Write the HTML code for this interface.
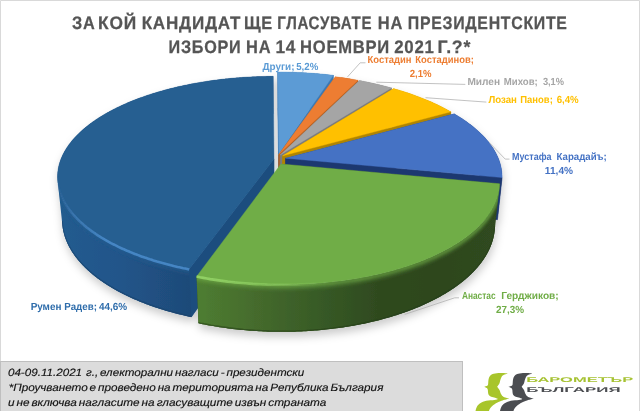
<!DOCTYPE html>
<html><head><meta charset="utf-8"><style>
html,body{margin:0;padding:0;background:#fff;}
svg{display:block;} text{white-space:pre;text-rendering:geometricPrecision;}
</style></head><body>
<svg width="640" height="411" viewBox="0 0 640 411" font-family="Liberation Sans, DejaVu Sans, sans-serif">
<defs>
<filter id="sh" x="-10%" y="-10%" width="120%" height="130%"><feGaussianBlur in="SourceAlpha" stdDeviation="4.2"/><feOffset dx="0.5" dy="4.5" result="b"/><feFlood flood-color="#000" flood-opacity="0.2"/><feComposite in2="b" operator="in"/><feMerge><feMergeNode/><feMergeNode in="SourceGraphic"/></feMerge></filter>
<filter id="soft" x="-5%" y="-50%" width="110%" height="200%"><feGaussianBlur stdDeviation="0.7"/></filter>
<filter id="soft2" x="-5%" y="-20%" width="110%" height="140%"><feGaussianBlur stdDeviation="0.9"/></filter>
<linearGradient id="gside5" gradientUnits="userSpaceOnUse" x1="195" y1="0" x2="500" y2="0">
<stop offset="0" stop-color="#4f7e31"/><stop offset="0.23" stop-color="#43682c"/><stop offset="0.41" stop-color="#375a26"/>
<stop offset="0.6" stop-color="#2f4a1f"/><stop offset="0.8" stop-color="#2d461e"/><stop offset="1" stop-color="#304b20"/></linearGradient>
<linearGradient id="gside6" gradientUnits="userSpaceOnUse" x1="57" y1="0" x2="192" y2="0">
<stop offset="0" stop-color="#245c8f"/><stop offset="0.45" stop-color="#22558a"/><stop offset="1" stop-color="#1e4a78"/></linearGradient>
<linearGradient id="ghl5" gradientUnits="userSpaceOnUse" x1="197" y1="0" x2="330" y2="0">
<stop offset="0" stop-color="#94d467" stop-opacity="0.95"/><stop offset="0.45" stop-color="#8fd062" stop-opacity="0.7"/><stop offset="1" stop-color="#8fd062" stop-opacity="0"/></linearGradient>
<linearGradient id="ghl6" gradientUnits="userSpaceOnUse" x1="57" y1="0" x2="195" y2="0">
<stop offset="0" stop-color="#4a8ccc" stop-opacity="0"/><stop offset="0.12" stop-color="#4a8ccc" stop-opacity="0.45"/><stop offset="0.35" stop-color="#4a8ccc" stop-opacity="0.85"/><stop offset="1" stop-color="#4a8ccc" stop-opacity="0.85"/></linearGradient>
<clipPath id="cs6"><path d="M189.20,269.27 L187.12,268.86 L185.04,268.43 L182.98,267.99 L180.93,267.55 L178.89,267.09 L176.86,266.62 L174.84,266.15 L172.84,265.66 L170.85,265.17 L168.87,264.67 L166.91,264.15 L164.95,263.63 L163.01,263.10 L161.09,262.56 L159.18,262.01 L157.28,261.46 L155.40,260.89 L153.53,260.32 L151.67,259.73 L149.83,259.14 L148.01,258.54 L146.20,257.94 L144.40,257.32 L142.63,256.70 L140.86,256.07 L139.12,255.43 L137.38,254.78 L135.67,254.13 L133.97,253.46 L132.29,252.80 L130.62,252.12 L128.97,251.44 L127.34,250.75 L125.72,250.05 L124.13,249.34 L122.55,248.63 L120.98,247.92 L119.44,247.19 L117.91,246.46 L116.40,245.72 L114.90,244.98 L113.43,244.23 L111.97,243.48 L110.53,242.72 L109.11,241.95 L107.71,241.18 L106.33,240.40 L104.97,239.62 L103.62,238.83 L102.29,238.03 L100.98,237.23 L99.69,236.43 L98.42,235.62 L97.17,234.81 L95.94,233.99 L94.73,233.17 L93.53,232.34 L92.36,231.51 L91.20,230.67 L90.07,229.83 L88.95,228.99 L87.86,228.14 L86.78,227.29 L85.72,226.43 L84.68,225.57 L83.66,224.71 L82.66,223.84 L81.68,222.97 L80.73,222.10 L79.79,221.23 L78.87,220.35 L77.96,219.47 L77.08,218.58 L76.22,217.70 L75.38,216.81 L74.56,215.92 L73.76,215.02 L72.98,214.13 L72.21,213.23 L71.47,212.33 L70.75,211.43 L70.05,210.52 L69.36,209.62 L68.70,208.71 L68.05,207.80 L67.43,206.89 L66.83,205.98 L66.24,205.06 L65.67,204.15 L65.13,203.24 L64.60,202.32 L64.09,201.40 L63.61,200.49 L63.14,199.57 L62.69,198.65 L62.26,197.73 L61.85,196.81 L61.45,195.89 L61.08,194.97 L60.73,194.05 L60.39,193.13 L60.08,192.21 L59.78,191.29 L59.50,190.37 L59.24,189.45 L59.00,188.53 L58.78,187.61 L58.57,186.69 L58.39,185.78 L58.22,184.86 L58.07,183.94 L57.94,183.03 L57.83,182.11 L62.42,225.61 L62.54,226.57 L62.67,227.54 L62.83,228.50 L63.00,229.47 L63.18,230.43 L63.39,231.40 L63.62,232.37 L63.86,233.33 L64.12,234.30 L64.40,235.27 L64.70,236.24 L65.01,237.21 L65.35,238.18 L65.70,239.14 L66.07,240.11 L66.46,241.08 L66.87,242.05 L67.30,243.02 L67.75,243.98 L68.21,244.95 L68.70,245.91 L69.20,246.88 L69.72,247.84 L70.26,248.80 L70.82,249.76 L71.40,250.72 L72.00,251.68 L72.62,252.64 L73.26,253.59 L73.91,254.55 L74.59,255.50 L75.28,256.45 L75.99,257.40 L76.73,258.34 L77.48,259.29 L78.25,260.23 L79.04,261.17 L79.85,262.11 L80.68,263.04 L81.53,263.97 L82.39,264.90 L83.28,265.83 L84.19,266.75 L85.11,267.67 L86.05,268.58 L87.02,269.50 L88.00,270.41 L89.00,271.31 L90.02,272.21 L91.06,273.11 L92.12,274.01 L93.20,274.90 L94.29,275.78 L95.41,276.66 L96.54,277.54 L97.70,278.41 L98.87,279.28 L100.06,280.15 L101.27,281.00 L102.50,281.86 L103.74,282.71 L105.01,283.55 L106.29,284.39 L107.59,285.22 L108.91,286.05 L110.25,286.87 L111.60,287.69 L112.98,288.50 L114.37,289.30 L115.78,290.10 L117.20,290.89 L118.65,291.68 L120.11,292.45 L121.59,293.23 L123.09,293.99 L124.60,294.75 L126.13,295.50 L127.68,296.25 L129.24,296.99 L130.82,297.72 L132.42,298.44 L134.03,299.16 L135.66,299.87 L137.31,300.57 L138.97,301.26 L140.65,301.95 L142.34,302.62 L144.05,303.29 L145.78,303.95 L147.52,304.61 L149.27,305.25 L151.04,305.89 L152.82,306.52 L154.62,307.13 L156.43,307.74 L158.26,308.35 L160.10,308.94 L161.96,309.52 L163.82,310.10 L165.70,310.66 L167.60,311.22 L169.51,311.76 L171.43,312.30 L173.36,312.83 L175.30,313.34 L177.26,313.85 L179.23,314.35 L181.21,314.84 L183.20,315.31 L185.20,315.78 L187.22,316.24 L189.24,316.69 L191.28,317.12 Z"/></clipPath>
<clipPath id="ct6"><path d="M274.00,158.97 L189.20,269.27 L187.14,268.86 L185.09,268.44 L183.05,268.01 L181.02,267.57 L179.01,267.12 L177.00,266.66 L175.01,266.19 L173.03,265.71 L171.06,265.22 L169.10,264.72 L167.16,264.22 L165.22,263.70 L163.31,263.18 L161.40,262.65 L159.51,262.11 L157.63,261.56 L155.77,261.00 L153.92,260.44 L152.08,259.86 L150.26,259.28 L148.45,258.69 L146.66,258.09 L144.88,257.49 L143.12,256.87 L141.37,256.25 L139.64,255.62 L137.93,254.98 L136.22,254.34 L134.54,253.69 L132.87,253.03 L131.22,252.36 L129.58,251.69 L127.96,251.01 L126.36,250.32 L124.77,249.63 L123.20,248.93 L121.65,248.22 L120.12,247.51 L118.60,246.79 L117.10,246.07 L115.61,245.34 L114.15,244.60 L112.70,243.85 L111.27,243.11 L109.85,242.35 L108.46,241.59 L107.08,240.82 L105.72,240.05 L104.38,239.28 L103.06,238.49 L101.76,237.71 L100.47,236.92 L99.20,236.12 L97.96,235.32 L96.73,234.51 L95.51,233.70 L94.32,232.89 L93.15,232.07 L91.99,231.24 L90.86,230.42 L89.74,229.59 L88.64,228.75 L87.56,227.91 L86.50,227.07 L85.46,226.22 L84.44,225.37 L83.44,224.52 L82.46,223.66 L81.49,222.80 L80.55,221.94 L79.62,221.07 L78.72,220.20 L77.83,219.33 L76.96,218.46 L76.11,217.58 L75.28,216.70 L74.47,215.82 L73.68,214.94 L72.91,214.05 L72.16,213.16 L71.43,212.27 L70.72,211.38 L70.02,210.49 L69.35,209.59 L68.69,208.70 L68.05,207.80 L67.44,206.90 L66.84,206.00 L66.26,205.10 L65.70,204.19 L65.16,203.29 L64.64,202.38 L64.13,201.48 L63.65,200.57 L63.18,199.66 L62.74,198.75 L62.31,197.85 L61.90,196.94 L61.51,196.03 L61.14,195.12 L60.79,194.21 L60.45,193.30 L60.14,192.39 L59.84,191.48 L59.56,190.57 L59.30,189.66 L59.06,188.75 L58.83,187.84 L58.63,186.94 L58.44,186.03 L58.27,185.12 L58.12,184.22 L57.98,183.31 L57.87,182.41 L57.77,181.51 L57.69,180.60 L57.62,179.70 L57.58,178.80 L57.55,177.91 L57.54,177.01 L57.54,176.11 L57.56,175.22 L57.60,174.33 L57.66,173.43 L57.73,172.55 L57.83,171.66 L57.93,170.77 L58.06,169.89 L58.20,169.01 L58.35,168.13 L58.53,167.25 L58.72,166.37 L58.92,165.50 L59.14,164.63 L59.38,163.76 L59.64,162.89 L59.91,162.03 L60.19,161.16 L60.49,160.30 L60.81,159.45 L61.14,158.59 L61.49,157.74 L61.85,156.89 L62.23,156.05 L62.62,155.20 L63.03,154.36 L63.45,153.53 L63.89,152.69 L64.34,151.86 L64.80,151.03 L65.28,150.21 L65.78,149.39 L66.29,148.57 L66.81,147.75 L67.35,146.94 L67.90,146.13 L68.47,145.32 L69.04,144.52 L69.64,143.72 L70.24,142.93 L70.86,142.14 L71.50,141.35 L72.14,140.57 L72.80,139.79 L73.47,139.01 L74.16,138.24 L74.85,137.47 L75.56,136.70 L76.29,135.94 L77.02,135.18 L77.77,134.43 L78.53,133.68 L79.30,132.93 L80.09,132.19 L80.88,131.45 L81.69,130.72 L82.51,129.99 L83.34,129.27 L84.19,128.54 L85.04,127.83 L85.91,127.11 L86.78,126.41 L87.67,125.70 L88.57,125.00 L89.48,124.31 L90.40,123.62 L91.33,122.93 L92.28,122.25 L93.23,121.57 L94.19,120.90 L95.17,120.23 L96.15,119.56 L97.14,118.90 L98.15,118.25 L99.16,117.60 L100.19,116.95 L101.22,116.31 L102.26,115.67 L103.32,115.04 L104.38,114.41 L105.45,113.79 L106.53,113.17 L107.62,112.56 L108.72,111.95 L109.83,111.35 L110.95,110.75 L112.07,110.15 L113.21,109.56 L114.35,108.98 L115.50,108.40 L116.66,107.83 L117.83,107.26 L119.01,106.69 L120.19,106.13 L121.38,105.58 L122.58,105.03 L123.79,104.48 L125.01,103.94 L126.23,103.41 L127.46,102.87 L128.70,102.35 L129.95,101.83 L131.20,101.31 L132.46,100.80 L133.73,100.30 L135.01,99.80 L136.29,99.30 L137.58,98.81 L138.87,98.33 L140.18,97.85 L141.49,97.38 L142.80,96.91 L144.12,96.44 L145.45,95.98 L146.79,95.53 L148.13,95.08 L149.47,94.64 L150.83,94.20 L152.18,93.76 L153.55,93.34 L154.92,92.91 L156.29,92.50 L157.68,92.08 L159.06,91.68 L160.46,91.27 L161.85,90.88 L163.26,90.49 L164.66,90.10 L166.08,89.72 L167.50,89.34 L168.92,88.97 L170.35,88.61 L171.78,88.25 L173.22,87.89 L174.66,87.54 L176.11,87.20 L177.56,86.86 L179.02,86.53 L180.48,86.20 L181.94,85.88 L183.41,85.56 L184.88,85.25 L186.36,84.94 L187.84,84.64 L189.32,84.34 L190.81,84.05 L192.30,83.76 L193.80,83.48 L195.30,83.21 L196.80,82.94 L198.31,82.67 L199.82,82.42 L201.33,82.16 L202.84,81.91 L204.36,81.67 L205.89,81.43 L207.41,81.20 L208.94,80.97 L210.47,80.75 L212.00,80.54 L213.54,80.33 L215.08,80.12 L216.62,79.92 L218.16,79.73 L219.71,79.54 L221.26,79.35 L222.81,79.17 L224.36,79.00 L225.92,78.83 L227.48,78.67 L229.03,78.51 L230.60,78.36 L232.16,78.22 L233.72,78.08 L235.29,77.94 L236.86,77.81 L238.43,77.69 L240.00,77.57 L241.57,77.45 L243.15,77.34 L244.72,77.24 L246.30,77.14 L247.88,77.05 L249.46,76.97 L251.04,76.88 L252.62,76.81 L254.20,76.74 L255.78,76.67 L257.37,76.61 L258.95,76.56 L260.54,76.51 L262.12,76.47 L263.71,76.43 L265.29,76.40 L266.88,76.37 L268.47,76.35 L270.06,76.33 L271.64,76.32 L273.23,76.31 Z"/></clipPath>
<clipPath id="cs5"><path d="M499.31,188.31 L499.20,189.23 L499.06,190.15 L498.91,191.08 L498.75,192.00 L498.56,192.93 L498.35,193.86 L498.13,194.79 L497.89,195.71 L497.63,196.64 L497.35,197.57 L497.05,198.50 L496.73,199.43 L496.40,200.36 L496.04,201.29 L495.67,202.22 L495.28,203.15 L494.87,204.07 L494.44,205.00 L493.99,205.93 L493.52,206.86 L493.03,207.78 L492.53,208.71 L492.00,209.63 L491.46,210.56 L490.89,211.48 L490.31,212.40 L489.70,213.32 L489.08,214.24 L488.44,215.16 L487.78,216.07 L487.09,216.99 L486.39,217.90 L485.67,218.81 L484.93,219.72 L484.17,220.62 L483.39,221.53 L482.60,222.43 L481.78,223.33 L480.94,224.23 L480.08,225.12 L479.20,226.01 L478.31,226.90 L477.39,227.79 L476.45,228.67 L475.50,229.55 L474.52,230.43 L473.53,231.31 L472.51,232.18 L471.48,233.04 L470.42,233.91 L469.35,234.77 L468.26,235.62 L467.15,236.47 L466.02,237.32 L464.87,238.17 L463.70,239.01 L462.51,239.84 L461.30,240.67 L460.07,241.50 L458.83,242.32 L457.56,243.14 L456.28,243.95 L454.98,244.76 L453.66,245.56 L452.32,246.35 L450.96,247.15 L449.58,247.93 L448.18,248.71 L446.77,249.49 L445.34,250.26 L443.89,251.02 L442.42,251.77 L440.93,252.53 L439.43,253.27 L437.91,254.01 L436.37,254.74 L434.81,255.47 L433.24,256.18 L431.64,256.90 L430.04,257.60 L428.41,258.30 L426.77,258.99 L425.11,259.68 L423.43,260.35 L421.74,261.02 L420.03,261.68 L418.31,262.34 L416.57,262.99 L414.81,263.62 L413.04,264.26 L411.25,264.88 L409.45,265.49 L407.63,266.10 L405.80,266.70 L403.95,267.29 L402.09,267.87 L400.21,268.45 L398.32,269.01 L396.42,269.57 L394.50,270.11 L392.56,270.65 L390.62,271.18 L388.66,271.70 L386.69,272.21 L384.70,272.72 L382.71,273.21 L380.70,273.69 L378.67,274.17 L376.64,274.63 L374.59,275.09 L372.54,275.53 L370.47,275.97 L368.39,276.39 L366.30,276.81 L364.20,277.21 L362.09,277.61 L359.97,277.99 L357.84,278.37 L355.70,278.73 L353.55,279.09 L351.39,279.43 L349.22,279.76 L347.04,280.09 L344.86,280.40 L342.67,280.70 L340.47,280.99 L338.26,281.27 L336.05,281.54 L333.83,281.80 L331.60,282.05 L329.36,282.29 L327.12,282.51 L324.88,282.73 L322.62,282.93 L320.37,283.13 L318.11,283.31 L315.84,283.48 L313.57,283.64 L311.29,283.79 L309.01,283.93 L306.73,284.05 L304.44,284.17 L302.16,284.27 L299.86,284.36 L297.57,284.45 L295.27,284.52 L292.98,284.57 L290.68,284.62 L288.38,284.66 L286.08,284.68 L283.77,284.69 L281.47,284.70 L279.17,284.69 L276.87,284.66 L274.57,284.63 L272.27,284.59 L269.97,284.53 L267.67,284.47 L265.37,284.39 L263.08,284.30 L260.79,284.20 L258.50,284.09 L256.21,283.97 L253.93,283.83 L251.65,283.69 L249.37,283.53 L247.10,283.36 L244.83,283.18 L242.57,282.99 L240.31,282.79 L238.06,282.58 L235.81,282.36 L233.57,282.12 L231.33,281.88 L229.11,281.62 L226.88,281.35 L224.67,281.08 L222.46,280.79 L220.26,280.49 L218.06,280.18 L215.88,279.86 L213.70,279.53 L211.53,279.19 L209.37,278.84 L207.22,278.48 L205.08,278.10 L202.95,277.72 L200.82,277.33 L198.71,276.93 L196.61,276.51 L198.47,323.33 L200.53,323.76 L202.59,324.18 L204.66,324.59 L206.75,324.99 L208.84,325.38 L210.94,325.75 L213.05,326.12 L215.16,326.48 L217.29,326.82 L219.42,327.16 L221.57,327.48 L223.71,327.79 L225.87,328.09 L228.03,328.38 L230.20,328.66 L232.38,328.93 L234.56,329.19 L236.75,329.43 L238.94,329.66 L241.14,329.88 L243.34,330.09 L245.55,330.29 L247.77,330.48 L249.98,330.65 L252.20,330.82 L254.43,330.97 L256.66,331.11 L258.89,331.24 L261.12,331.35 L263.36,331.46 L265.60,331.55 L267.84,331.63 L270.08,331.70 L272.32,331.76 L274.57,331.81 L276.82,331.84 L279.06,331.86 L281.31,331.87 L283.56,331.87 L285.80,331.86 L288.05,331.83 L290.29,331.79 L292.54,331.75 L294.78,331.68 L297.02,331.61 L299.26,331.53 L301.49,331.43 L303.73,331.32 L305.96,331.20 L308.19,331.07 L310.41,330.93 L312.63,330.77 L314.85,330.60 L317.06,330.43 L319.27,330.24 L321.47,330.03 L323.67,329.82 L325.86,329.60 L328.05,329.36 L330.23,329.11 L332.40,328.85 L334.57,328.58 L336.73,328.30 L338.89,328.01 L341.04,327.70 L343.18,327.39 L345.31,327.06 L347.43,326.72 L349.55,326.37 L351.66,326.01 L353.76,325.64 L355.85,325.26 L357.93,324.87 L360.00,324.47 L362.06,324.06 L364.11,323.63 L366.15,323.20 L368.19,322.75 L370.21,322.30 L372.22,321.83 L374.21,321.36 L376.20,320.87 L378.18,320.38 L380.14,319.87 L382.09,319.36 L384.03,318.83 L385.96,318.30 L387.87,317.76 L389.78,317.20 L391.67,316.64 L393.54,316.07 L395.40,315.49 L397.25,314.90 L399.09,314.30 L400.91,313.69 L402.71,313.07 L404.51,312.44 L406.29,311.81 L408.05,311.17 L409.80,310.51 L411.53,309.85 L413.25,309.19 L414.95,308.51 L416.64,307.83 L418.31,307.13 L419.97,306.43 L421.61,305.73 L423.23,305.01 L424.84,304.29 L426.43,303.56 L428.01,302.82 L429.57,302.07 L431.11,301.32 L432.63,300.56 L434.14,299.80 L435.63,299.02 L437.11,298.24 L438.56,297.46 L440.00,296.67 L441.42,295.87 L442.83,295.06 L444.21,294.25 L445.58,293.44 L446.93,292.61 L448.26,291.78 L449.58,290.95 L450.87,290.11 L452.15,289.27 L453.41,288.42 L454.65,287.56 L455.88,286.70 L457.08,285.83 L458.27,284.96 L459.43,284.09 L460.58,283.21 L461.71,282.33 L462.83,281.44 L463.92,280.54 L464.99,279.65 L466.05,278.75 L467.08,277.84 L468.10,276.93 L469.10,276.02 L470.08,275.10 L471.04,274.18 L471.98,273.26 L472.90,272.34 L473.80,271.41 L474.68,270.47 L475.55,269.54 L476.39,268.60 L477.22,267.66 L478.03,266.71 L478.82,265.77 L479.58,264.82 L480.33,263.87 L481.06,262.92 L481.78,261.96 L482.47,261.00 L483.14,260.04 L483.80,259.08 L484.43,258.12 L485.05,257.16 L485.65,256.19 L486.22,255.22 L486.78,254.26 L487.32,253.29 L487.85,252.32 L488.35,251.34 L488.83,250.37 L489.30,249.40 L489.75,248.43 L490.17,247.45 L490.58,246.48 L490.97,245.50 L491.35,244.52 L491.70,243.55 L492.04,242.57 L492.35,241.60 L492.65,240.62 L492.93,239.64 L493.19,238.67 L493.44,237.69 L493.66,236.72 L493.87,235.74 L494.06,234.77 L494.24,233.80 L494.39,232.82 L494.53,231.85 L494.65,230.88 Z"/></clipPath>
<clipPath id="ct5"><path d="M280.93,163.98 L499.61,183.81 L499.59,184.73 L499.54,185.65 L499.48,186.57 L499.40,187.49 L499.30,188.41 L499.18,189.33 L499.05,190.26 L498.90,191.18 L498.73,192.11 L498.54,193.03 L498.33,193.96 L498.11,194.89 L497.86,195.81 L497.60,196.74 L497.32,197.67 L497.02,198.60 L496.70,199.53 L496.36,200.46 L496.01,201.39 L495.63,202.31 L495.24,203.24 L494.83,204.17 L494.39,205.10 L493.94,206.02 L493.47,206.95 L492.98,207.88 L492.48,208.80 L491.95,209.72 L491.40,210.65 L490.83,211.57 L490.25,212.49 L489.64,213.41 L489.02,214.33 L488.38,215.24 L487.71,216.16 L487.03,217.07 L486.33,217.98 L485.61,218.89 L484.86,219.80 L484.10,220.71 L483.32,221.61 L482.52,222.51 L481.70,223.41 L480.86,224.31 L480.00,225.20 L479.12,226.09 L478.23,226.98 L477.31,227.87 L476.37,228.75 L475.41,229.63 L474.44,230.51 L473.44,231.38 L472.43,232.25 L471.39,233.12 L470.34,233.98 L469.26,234.84 L468.17,235.69 L467.06,236.54 L465.92,237.39 L464.77,238.23 L463.60,239.07 L462.41,239.91 L461.21,240.74 L459.98,241.56 L458.73,242.38 L457.47,243.20 L456.18,244.01 L454.88,244.82 L453.56,245.62 L452.21,246.41 L450.86,247.20 L449.48,247.99 L448.08,248.77 L446.67,249.54 L445.24,250.31 L443.78,251.07 L442.32,251.83 L440.83,252.58 L439.32,253.32 L437.80,254.06 L436.26,254.79 L434.71,255.51 L433.13,256.23 L431.54,256.94 L429.93,257.65 L428.30,258.35 L426.66,259.04 L425.00,259.72 L423.33,260.39 L421.64,261.06 L419.93,261.72 L418.20,262.38 L416.46,263.02 L414.71,263.66 L412.93,264.29 L411.15,264.92 L409.34,265.53 L407.53,266.14 L405.69,266.73 L403.85,267.32 L401.98,267.90 L400.11,268.48 L398.22,269.04 L396.31,269.60 L394.39,270.14 L392.46,270.68 L390.52,271.21 L388.56,271.73 L386.59,272.24 L384.60,272.74 L382.61,273.23 L380.60,273.72 L378.58,274.19 L376.54,274.65 L374.50,275.11 L372.44,275.55 L370.37,275.99 L368.29,276.41 L366.20,276.82 L364.11,277.23 L361.99,277.62 L359.87,278.01 L357.74,278.38 L355.61,278.75 L353.46,279.10 L351.30,279.44 L349.13,279.78 L346.96,280.10 L344.77,280.41 L342.58,280.71 L340.38,281.00 L338.18,281.28 L335.97,281.55 L333.74,281.81 L331.52,282.06 L329.28,282.30 L327.05,282.52 L324.80,282.74 L322.55,282.94 L320.29,283.13 L318.03,283.32 L315.77,283.49 L313.50,283.65 L311.22,283.79 L308.95,283.93 L306.66,284.06 L304.38,284.17 L302.09,284.27 L299.80,284.37 L297.51,284.45 L295.21,284.52 L292.92,284.57 L290.62,284.62 L288.32,284.66 L286.02,284.68 L283.72,284.69 L281.42,284.70 L279.12,284.69 L276.82,284.66 L274.52,284.63 L272.22,284.59 L269.92,284.53 L267.62,284.47 L265.33,284.39 L263.04,284.30 L260.75,284.20 L258.46,284.09 L256.17,283.96 L253.89,283.83 L251.61,283.68 L249.34,283.53 L247.07,283.36 L244.80,283.18 L242.54,282.99 L240.28,282.79 L238.03,282.58 L235.79,282.35 L233.55,282.12 L231.31,281.87 L229.09,281.62 L226.86,281.35 L224.65,281.07 L222.44,280.79 L220.24,280.49 L218.05,280.18 L215.87,279.86 L213.69,279.53 L211.52,279.19 L209.36,278.84 L207.21,278.47 L205.07,278.10 L202.94,277.72 L200.82,277.33 L198.71,276.93 L196.61,276.51 Z"/></clipPath>
</defs>
<rect x="0" y="0" width="640" height="411" fill="#fff"/>
<path d="M0.5,411 V0.5 H639.5 V411" fill="none" stroke="#d9d9d9" stroke-width="1"/>
<g stroke="#555" stroke-width="0.25" letter-spacing="0.8"><text x="72.03" y="28.80" textLength="23.42" lengthAdjust="spacingAndGlyphs" font-size="18" fill="#555" font-weight="bold" font-style="normal">ЗА</text><text x="98.04" y="28.80" textLength="38.89" lengthAdjust="spacingAndGlyphs" font-size="18" fill="#555" font-weight="bold" font-style="normal">КОЙ</text><text x="141.67" y="28.80" textLength="99.56" lengthAdjust="spacingAndGlyphs" font-size="18" fill="#555" font-weight="bold" font-style="normal">КАНДИДАТ</text><text x="243.90" y="28.80" textLength="29.06" lengthAdjust="spacingAndGlyphs" font-size="18" fill="#555" font-weight="bold" font-style="normal">ЩЕ</text><text x="277.32" y="28.80" textLength="94.81" lengthAdjust="spacingAndGlyphs" font-size="18" fill="#555" font-weight="bold" font-style="normal">ГЛАСУВАТЕ</text><text x="377.80" y="28.80" textLength="25.27" lengthAdjust="spacingAndGlyphs" font-size="18" fill="#555" font-weight="bold" font-style="normal">НА</text><text x="407.84" y="28.80" textLength="159.79" lengthAdjust="spacingAndGlyphs" font-size="18" fill="#555" font-weight="bold" font-style="normal">ПРЕЗИДЕНТСКИТЕ</text></g><g stroke="#555" stroke-width="0.25" letter-spacing="0.8"><text x="168.62" y="53.30" textLength="72.78" lengthAdjust="spacingAndGlyphs" font-size="18" fill="#555" font-weight="bold" font-style="normal">ИЗБОРИ</text><text x="246.10" y="53.30" textLength="25.16" lengthAdjust="spacingAndGlyphs" font-size="18" fill="#555" font-weight="bold" font-style="normal">НА</text><text x="275.41" y="53.30" textLength="20.75" lengthAdjust="spacingAndGlyphs" font-size="18" fill="#555" font-weight="bold" font-style="normal">14</text><text x="300.09" y="53.30" textLength="89.96" lengthAdjust="spacingAndGlyphs" font-size="18" fill="#555" font-weight="bold" font-style="normal">НОЕМВРИ</text><text x="394.22" y="53.30" textLength="40.40" lengthAdjust="spacingAndGlyphs" font-size="18" fill="#555" font-weight="bold" font-style="normal">2021</text><text x="437.48" y="53.30" textLength="33.78" lengthAdjust="spacingAndGlyphs" font-size="18" fill="#555" font-weight="bold" font-style="normal">Г.?*</text></g>
<g id="pie" filter="url(#sh)">
<path d="M279.03,152.93 L277.83,72.00 L279.48,72.00 L281.12,72.01 L282.77,72.02 L284.42,72.04 L286.06,72.06 L287.71,72.09 L289.35,72.13 L291.00,72.17 L292.64,72.21 L294.28,72.26 L295.93,72.32 L297.57,72.39 L299.21,72.46 L300.85,72.53 L302.49,72.61 L304.13,72.70 L305.76,72.79 L307.40,72.89 L309.03,73.00 L310.67,73.11 L312.30,73.22 L313.93,73.34 L315.55,73.47 L317.18,73.60 L318.81,73.74 L320.43,73.89 L322.05,74.04 L323.67,74.20 L325.28,74.36 L326.90,74.53 L328.51,74.70 L330.12,74.88 L331.73,75.07 L333.33,75.26 L332.39,111.53 L330.81,111.32 L329.23,111.13 L327.65,110.94 L326.06,110.75 L324.47,110.57 L322.88,110.40 L321.29,110.24 L319.70,110.08 L318.10,109.92 L316.51,109.77 L314.91,109.63 L313.31,109.50 L311.70,109.37 L310.10,109.25 L308.49,109.13 L306.89,109.02 L305.28,108.91 L303.67,108.82 L302.06,108.72 L300.45,108.64 L298.84,108.56 L297.22,108.48 L295.61,108.42 L293.99,108.35 L292.38,108.30 L290.76,108.25 L289.14,108.21 L287.53,108.17 L285.91,108.14 L284.29,108.12 L282.67,108.10 L281.05,108.08 L279.43,108.08 L277.81,108.08 L278.99,193.63 Z" fill="#3e78b0"/>
<path d="M279.03,152.93 L277.83,72.00 L277.81,108.08 L278.99,193.63 Z" fill="#3e78b0" stroke="#3e78b0" stroke-width="0.6"/>
<path d="M279.03,152.93 L333.33,75.26 L332.39,111.53 L278.99,193.63 Z" fill="#3e78b0" stroke="#3e78b0" stroke-width="0.6"/>
<path d="M279.03,152.93 L277.83,72.00 L279.48,72.00 L281.12,72.01 L282.77,72.02 L284.42,72.04 L286.06,72.06 L287.71,72.09 L289.35,72.13 L291.00,72.17 L292.64,72.21 L294.28,72.26 L295.93,72.32 L297.57,72.39 L299.21,72.46 L300.85,72.53 L302.49,72.61 L304.13,72.70 L305.76,72.79 L307.40,72.89 L309.03,73.00 L310.67,73.11 L312.30,73.22 L313.93,73.34 L315.55,73.47 L317.18,73.60 L318.81,73.74 L320.43,73.89 L322.05,74.04 L323.67,74.20 L325.28,74.36 L326.90,74.53 L328.51,74.70 L330.12,74.88 L331.73,75.07 L333.33,75.26 Z" fill="#5b9bd5" stroke="#5b9bd5" stroke-width="0.4"/>
<path d="M278.69,154.59 L335.34,76.73 L336.99,76.94 L338.63,77.16 L340.26,77.39 L341.90,77.62 L343.53,77.85 L345.16,78.10 L346.78,78.34 L348.40,78.60 L350.02,78.86 L351.63,79.13 L353.24,79.40 L354.85,79.68 L356.45,79.96 L358.05,80.26 L356.64,116.84 L355.07,116.53 L353.49,116.23 L351.91,115.93 L350.33,115.64 L348.75,115.36 L347.16,115.08 L345.56,114.81 L343.97,114.55 L342.37,114.29 L340.77,114.04 L339.16,113.79 L337.55,113.56 L335.94,113.33 L334.32,113.10 L278.61,195.39 Z" fill="#b45f22"/>
<path d="M278.69,154.59 L358.05,80.26 L356.64,116.84 L278.61,195.39 Z" fill="#b45f22" stroke="#b45f22" stroke-width="0.6"/>
<path d="M278.69,154.59 L335.34,76.73 L336.99,76.94 L338.63,77.16 L340.26,77.39 L341.90,77.62 L343.53,77.85 L345.16,78.10 L346.78,78.34 L348.40,78.60 L350.02,78.86 L351.63,79.13 L353.24,79.40 L354.85,79.68 L356.45,79.96 L358.05,80.26 Z" fill="#ed7d31" stroke="#ed7d31" stroke-width="0.4"/>
<path d="M280.21,154.94 L359.41,80.52 L360.98,80.81 L362.55,81.11 L364.11,81.41 L365.67,81.72 L367.23,82.04 L368.78,82.36 L370.32,82.69 L371.86,83.03 L373.40,83.37 L374.93,83.71 L376.46,84.06 L377.98,84.42 L379.49,84.78 L381.01,85.15 L382.51,85.53 L384.01,85.91 L385.51,86.29 L387.00,86.69 L388.49,87.08 L389.96,87.49 L391.44,87.90 L389.43,124.93 L387.98,124.50 L386.53,124.07 L385.07,123.65 L383.61,123.23 L382.14,122.82 L380.67,122.42 L379.19,122.02 L377.70,121.63 L376.21,121.25 L374.72,120.87 L373.22,120.50 L371.71,120.13 L370.21,119.77 L368.69,119.42 L367.17,119.07 L365.65,118.73 L364.12,118.39 L362.59,118.06 L361.06,117.74 L359.52,117.42 L357.98,117.11 L280.10,195.76 Z" fill="#7b7b7b"/>
<path d="M280.21,154.94 L391.44,87.90 L389.43,124.93 L280.10,195.76 Z" fill="#7b7b7b" stroke="#7b7b7b" stroke-width="0.6"/>
<path d="M280.21,154.94 L359.41,80.52 L360.98,80.81 L362.55,81.11 L364.11,81.41 L365.67,81.72 L367.23,82.04 L368.78,82.36 L370.32,82.69 L371.86,83.03 L373.40,83.37 L374.93,83.71 L376.46,84.06 L377.98,84.42 L379.49,84.78 L381.01,85.15 L382.51,85.53 L384.01,85.91 L385.51,86.29 L387.00,86.69 L388.49,87.08 L389.96,87.49 L391.44,87.90 Z" fill="#a5a5a5" stroke="#a5a5a5" stroke-width="0.4"/>
<path d="M282.61,155.85 L393.70,88.60 L395.12,89.00 L396.53,89.40 L397.94,89.82 L399.34,90.23 L400.73,90.66 L402.12,91.08 L403.51,91.52 L404.89,91.95 L406.26,92.40 L407.62,92.85 L408.98,93.30 L410.34,93.76 L411.68,94.23 L413.02,94.70 L414.36,95.17 L415.68,95.65 L417.00,96.14 L418.32,96.63 L419.62,97.13 L420.92,97.63 L422.21,98.13 L423.50,98.65 L424.77,99.16 L426.04,99.69 L427.31,100.21 L428.56,100.75 L429.81,101.28 L431.05,101.83 L432.28,102.37 L433.50,102.93 L434.72,103.48 L435.92,104.05 L437.12,104.61 L438.31,105.19 L439.49,105.77 L440.67,106.35 L441.83,106.94 L442.99,107.53 L444.13,108.13 L445.27,108.73 L446.40,109.34 L447.52,109.95 L448.63,110.57 L449.73,111.19 L450.82,111.82 L447.64,150.24 L446.57,149.58 L445.49,148.92 L444.41,148.27 L443.31,147.62 L442.21,146.98 L441.09,146.34 L439.97,145.71 L438.84,145.08 L437.70,144.46 L436.55,143.84 L435.39,143.23 L434.23,142.62 L433.05,142.02 L431.87,141.43 L430.68,140.84 L429.48,140.25 L428.28,139.67 L427.06,139.10 L425.84,138.53 L424.61,137.97 L423.37,137.41 L422.13,136.86 L420.88,136.31 L419.62,135.77 L418.35,135.23 L417.08,134.70 L415.80,134.18 L414.51,133.66 L413.22,133.14 L411.91,132.63 L410.61,132.13 L409.29,131.63 L407.97,131.14 L406.64,130.65 L405.31,130.17 L403.97,129.70 L402.63,129.23 L401.27,128.76 L399.92,128.30 L398.55,127.85 L397.18,127.40 L395.81,126.96 L394.43,126.53 L393.04,126.10 L391.65,125.67 L282.45,196.72 Z" fill="#b08400"/>
<path d="M282.61,155.85 L450.82,111.82 L447.64,150.24 L282.45,196.72 Z" fill="#b08400" stroke="#b08400" stroke-width="0.6"/>
<path d="M282.61,155.85 L393.70,88.60 L395.12,89.00 L396.53,89.40 L397.94,89.82 L399.34,90.23 L400.73,90.66 L402.12,91.08 L403.51,91.52 L404.89,91.95 L406.26,92.40 L407.62,92.85 L408.98,93.30 L410.34,93.76 L411.68,94.23 L413.02,94.70 L414.36,95.17 L415.68,95.65 L417.00,96.14 L418.32,96.63 L419.62,97.13 L420.92,97.63 L422.21,98.13 L423.50,98.65 L424.77,99.16 L426.04,99.69 L427.31,100.21 L428.56,100.75 L429.81,101.28 L431.05,101.83 L432.28,102.37 L433.50,102.93 L434.72,103.48 L435.92,104.05 L437.12,104.61 L438.31,105.19 L439.49,105.77 L440.67,106.35 L441.83,106.94 L442.99,107.53 L444.13,108.13 L445.27,108.73 L446.40,109.34 L447.52,109.95 L448.63,110.57 L449.73,111.19 L450.82,111.82 Z" fill="#ffc000" stroke="#ffc000" stroke-width="0.4"/>
<path d="M274.00,158.97 L189.20,269.27 L187.14,268.86 L185.09,268.44 L183.05,268.01 L181.02,267.57 L179.01,267.12 L177.00,266.66 L175.01,266.19 L173.03,265.71 L171.06,265.22 L169.10,264.72 L167.16,264.22 L165.22,263.70 L163.31,263.18 L161.40,262.65 L159.51,262.11 L157.63,261.56 L155.77,261.00 L153.92,260.44 L152.08,259.86 L150.26,259.28 L148.45,258.69 L146.66,258.09 L144.88,257.49 L143.12,256.87 L141.37,256.25 L139.64,255.62 L137.93,254.98 L136.22,254.34 L134.54,253.69 L132.87,253.03 L131.22,252.36 L129.58,251.69 L127.96,251.01 L126.36,250.32 L124.77,249.63 L123.20,248.93 L121.65,248.22 L120.12,247.51 L118.60,246.79 L117.10,246.07 L115.61,245.34 L114.15,244.60 L112.70,243.85 L111.27,243.11 L109.85,242.35 L108.46,241.59 L107.08,240.82 L105.72,240.05 L104.38,239.28 L103.06,238.49 L101.76,237.71 L100.47,236.92 L99.20,236.12 L97.96,235.32 L96.73,234.51 L95.51,233.70 L94.32,232.89 L93.15,232.07 L91.99,231.24 L90.86,230.42 L89.74,229.59 L88.64,228.75 L87.56,227.91 L86.50,227.07 L85.46,226.22 L84.44,225.37 L83.44,224.52 L82.46,223.66 L81.49,222.80 L80.55,221.94 L79.62,221.07 L78.72,220.20 L77.83,219.33 L76.96,218.46 L76.11,217.58 L75.28,216.70 L74.47,215.82 L73.68,214.94 L72.91,214.05 L72.16,213.16 L71.43,212.27 L70.72,211.38 L70.02,210.49 L69.35,209.59 L68.69,208.70 L68.05,207.80 L67.44,206.90 L66.84,206.00 L66.26,205.10 L65.70,204.19 L65.16,203.29 L64.64,202.38 L64.13,201.48 L63.65,200.57 L63.18,199.66 L62.74,198.75 L62.31,197.85 L61.90,196.94 L61.51,196.03 L61.14,195.12 L60.79,194.21 L60.45,193.30 L60.14,192.39 L59.84,191.48 L59.56,190.57 L59.30,189.66 L59.06,188.75 L58.83,187.84 L58.63,186.94 L58.44,186.03 L58.27,185.12 L58.12,184.22 L57.98,183.31 L57.87,182.41 L57.77,181.51 L57.69,180.60 L57.62,179.70 L57.58,178.80 L57.55,177.91 L57.54,177.01 L57.54,176.11 L57.56,175.22 L57.60,174.33 L57.66,173.43 L57.73,172.55 L57.83,171.66 L57.93,170.77 L58.06,169.89 L58.20,169.01 L58.35,168.13 L58.53,167.25 L58.72,166.37 L58.92,165.50 L59.14,164.63 L59.38,163.76 L59.64,162.89 L59.91,162.03 L60.19,161.16 L60.49,160.30 L60.81,159.45 L61.14,158.59 L61.49,157.74 L61.85,156.89 L62.23,156.05 L62.62,155.20 L63.03,154.36 L63.45,153.53 L63.89,152.69 L64.34,151.86 L64.80,151.03 L65.28,150.21 L65.78,149.39 L66.29,148.57 L66.81,147.75 L67.35,146.94 L67.90,146.13 L68.47,145.32 L69.04,144.52 L69.64,143.72 L70.24,142.93 L70.86,142.14 L71.50,141.35 L72.14,140.57 L72.80,139.79 L73.47,139.01 L74.16,138.24 L74.85,137.47 L75.56,136.70 L76.29,135.94 L77.02,135.18 L77.77,134.43 L78.53,133.68 L79.30,132.93 L80.09,132.19 L80.88,131.45 L81.69,130.72 L82.51,129.99 L83.34,129.27 L84.19,128.54 L85.04,127.83 L85.91,127.11 L86.78,126.41 L87.67,125.70 L88.57,125.00 L89.48,124.31 L90.40,123.62 L91.33,122.93 L92.28,122.25 L93.23,121.57 L94.19,120.90 L95.17,120.23 L96.15,119.56 L97.14,118.90 L98.15,118.25 L99.16,117.60 L100.19,116.95 L101.22,116.31 L102.26,115.67 L103.32,115.04 L104.38,114.41 L105.45,113.79 L106.53,113.17 L107.62,112.56 L108.72,111.95 L109.83,111.35 L110.95,110.75 L112.07,110.15 L113.21,109.56 L114.35,108.98 L115.50,108.40 L116.66,107.83 L117.83,107.26 L119.01,106.69 L120.19,106.13 L121.38,105.58 L122.58,105.03 L123.79,104.48 L125.01,103.94 L126.23,103.41 L127.46,102.87 L128.70,102.35 L129.95,101.83 L131.20,101.31 L132.46,100.80 L133.73,100.30 L135.01,99.80 L136.29,99.30 L137.58,98.81 L138.87,98.33 L140.18,97.85 L141.49,97.38 L142.80,96.91 L144.12,96.44 L145.45,95.98 L146.79,95.53 L148.13,95.08 L149.47,94.64 L150.83,94.20 L152.18,93.76 L153.55,93.34 L154.92,92.91 L156.29,92.50 L157.68,92.08 L159.06,91.68 L160.46,91.27 L161.85,90.88 L163.26,90.49 L164.66,90.10 L166.08,89.72 L167.50,89.34 L168.92,88.97 L170.35,88.61 L171.78,88.25 L173.22,87.89 L174.66,87.54 L176.11,87.20 L177.56,86.86 L179.02,86.53 L180.48,86.20 L181.94,85.88 L183.41,85.56 L184.88,85.25 L186.36,84.94 L187.84,84.64 L189.32,84.34 L190.81,84.05 L192.30,83.76 L193.80,83.48 L195.30,83.21 L196.80,82.94 L198.31,82.67 L199.82,82.42 L201.33,82.16 L202.84,81.91 L204.36,81.67 L205.89,81.43 L207.41,81.20 L208.94,80.97 L210.47,80.75 L212.00,80.54 L213.54,80.33 L215.08,80.12 L216.62,79.92 L218.16,79.73 L219.71,79.54 L221.26,79.35 L222.81,79.17 L224.36,79.00 L225.92,78.83 L227.48,78.67 L229.03,78.51 L230.60,78.36 L232.16,78.22 L233.72,78.08 L235.29,77.94 L236.86,77.81 L238.43,77.69 L240.00,77.57 L241.57,77.45 L243.15,77.34 L244.72,77.24 L246.30,77.14 L247.88,77.05 L249.46,76.97 L251.04,76.88 L252.62,76.81 L254.20,76.74 L255.78,76.67 L257.37,76.61 L258.95,76.56 L260.54,76.51 L262.12,76.47 L263.71,76.43 L265.29,76.40 L266.88,76.37 L268.47,76.35 L270.06,76.33 L271.64,76.32 L273.23,76.31 L273.26,113.73 L271.70,113.74 L270.14,113.75 L268.58,113.76 L267.02,113.79 L265.46,113.82 L263.90,113.85 L262.34,113.89 L260.78,113.94 L259.22,113.99 L257.67,114.05 L256.11,114.11 L254.56,114.18 L253.00,114.26 L251.45,114.34 L249.90,114.42 L248.34,114.51 L246.79,114.61 L245.24,114.72 L243.70,114.83 L242.15,114.94 L240.60,115.06 L239.06,115.19 L237.52,115.32 L235.98,115.46 L234.44,115.60 L232.90,115.75 L231.36,115.91 L229.83,116.07 L228.30,116.23 L226.77,116.41 L225.24,116.58 L223.71,116.77 L222.19,116.96 L220.67,117.15 L219.15,117.35 L217.63,117.56 L216.12,117.77 L214.61,117.99 L213.10,118.21 L211.59,118.44 L210.09,118.68 L208.59,118.92 L207.09,119.16 L205.60,119.42 L204.10,119.67 L202.61,119.94 L201.13,120.21 L199.65,120.48 L198.17,120.76 L196.69,121.05 L195.22,121.34 L193.75,121.64 L192.29,121.94 L190.83,122.25 L189.37,122.56 L187.92,122.88 L186.47,123.21 L185.02,123.54 L183.58,123.88 L182.14,124.22 L180.71,124.57 L179.28,124.92 L177.85,125.28 L176.43,125.65 L175.02,126.02 L173.61,126.39 L172.20,126.78 L170.80,127.16 L169.40,127.56 L168.01,127.95 L166.63,128.36 L165.24,128.77 L163.87,129.18 L162.50,129.60 L161.13,130.03 L159.77,130.46 L158.41,130.90 L157.07,131.34 L155.72,131.79 L154.38,132.24 L153.05,132.70 L151.72,133.17 L150.40,133.64 L149.09,134.11 L147.78,134.60 L146.48,135.08 L145.18,135.57 L143.89,136.07 L142.61,136.58 L141.34,137.08 L140.07,137.60 L138.80,138.12 L137.55,138.64 L136.30,139.17 L135.05,139.71 L133.82,140.25 L132.59,140.79 L131.37,141.34 L130.16,141.90 L128.95,142.46 L127.75,143.03 L126.56,143.60 L125.38,144.18 L124.20,144.76 L123.03,145.35 L121.87,145.94 L120.72,146.54 L119.58,147.15 L118.44,147.75 L117.32,148.37 L116.20,148.99 L115.09,149.61 L113.99,150.24 L112.89,150.87 L111.81,151.51 L110.74,152.16 L109.67,152.81 L108.61,153.46 L107.56,154.12 L106.53,154.78 L105.50,155.45 L104.48,156.13 L103.47,156.81 L102.47,157.49 L101.48,158.18 L100.49,158.87 L99.52,159.57 L98.56,160.27 L97.61,160.98 L96.67,161.69 L95.74,162.41 L94.82,163.13 L93.91,163.86 L93.01,164.59 L92.12,165.33 L91.25,166.07 L90.38,166.81 L89.52,167.56 L88.68,168.31 L87.85,169.07 L87.02,169.83 L86.21,170.60 L85.42,171.37 L84.63,172.15 L83.85,172.93 L83.09,173.71 L82.34,174.50 L81.60,175.29 L80.87,176.09 L80.15,176.89 L79.45,177.70 L78.76,178.50 L78.08,179.32 L77.42,180.13 L76.76,180.95 L76.12,181.78 L75.49,182.61 L74.88,183.44 L74.28,184.28 L73.69,185.12 L73.12,185.96 L72.55,186.81 L72.01,187.66 L71.47,188.51 L70.95,189.37 L70.45,190.23 L69.95,191.09 L69.47,191.96 L69.01,192.83 L68.56,193.71 L68.12,194.59 L67.70,195.47 L67.29,196.35 L66.90,197.24 L66.52,198.13 L66.16,199.02 L65.81,199.92 L65.48,200.81 L65.16,201.72 L64.86,202.62 L64.57,203.53 L64.29,204.44 L64.04,205.35 L63.80,206.26 L63.57,207.18 L63.36,208.10 L63.16,209.02 L62.99,209.94 L62.82,210.87 L62.68,211.80 L62.54,212.73 L62.43,213.66 L62.33,214.59 L62.25,215.53 L62.19,216.47 L62.14,217.40 L62.10,218.34 L62.09,219.29 L62.09,220.23 L62.11,221.18 L62.14,222.12 L62.20,223.07 L62.27,224.02 L62.35,224.97 L62.46,225.92 L62.58,226.87 L62.72,227.83 L62.87,228.78 L63.05,229.73 L63.24,230.69 L63.45,231.65 L63.67,232.60 L63.92,233.56 L64.18,234.52 L64.46,235.47 L64.76,236.43 L65.07,237.39 L65.41,238.34 L65.76,239.30 L66.13,240.26 L66.52,241.22 L66.93,242.17 L67.35,243.13 L67.79,244.08 L68.26,245.04 L68.74,245.99 L69.24,246.94 L69.75,247.90 L70.29,248.85 L70.84,249.80 L71.42,250.75 L72.01,251.69 L72.62,252.64 L73.25,253.58 L73.90,254.53 L74.56,255.47 L75.25,256.41 L75.95,257.34 L76.68,258.28 L77.42,259.21 L78.18,260.14 L78.96,261.07 L79.75,262.00 L80.57,262.92 L81.41,263.84 L82.26,264.76 L83.13,265.67 L84.03,266.59 L84.94,267.50 L85.87,268.40 L86.81,269.31 L87.78,270.21 L88.77,271.10 L89.77,271.99 L90.79,272.88 L91.83,273.77 L92.89,274.65 L93.97,275.52 L95.07,276.40 L96.19,277.27 L97.32,278.13 L98.47,278.99 L99.64,279.85 L100.83,280.70 L102.04,281.54 L103.26,282.38 L104.50,283.22 L105.76,284.05 L107.04,284.87 L108.34,285.69 L109.65,286.51 L110.99,287.32 L112.34,288.12 L113.70,288.92 L115.09,289.71 L116.49,290.49 L117.91,291.27 L119.34,292.05 L120.80,292.81 L122.27,293.57 L123.75,294.33 L125.26,295.08 L126.78,295.82 L128.31,296.55 L129.87,297.28 L131.43,298.00 L133.02,298.71 L134.62,299.41 L136.24,300.11 L137.87,300.80 L139.52,301.48 L141.18,302.16 L142.86,302.83 L144.55,303.49 L146.26,304.14 L147.98,304.78 L149.72,305.41 L151.47,306.04 L153.24,306.66 L155.02,307.27 L156.82,307.87 L158.62,308.46 L160.45,309.05 L162.28,309.62 L164.13,310.19 L165.99,310.74 L167.86,311.29 L169.75,311.83 L171.65,312.36 L173.56,312.88 L175.49,313.39 L177.42,313.89 L179.37,314.38 L181.33,314.86 L183.29,315.34 L185.27,315.80 L187.27,316.25 L189.27,316.69 L191.28,317.12 L274.01,201.21 Z" fill="#1f4e7e"/>
<path d="M274.00,158.97 L189.20,269.27 L191.28,317.12 L274.01,201.21 Z" fill="#1f4e7e" stroke="#1f4e7e" stroke-width="0.6"/>
<path d="M189.20,269.27 L187.12,268.86 L185.04,268.43 L182.98,267.99 L180.93,267.55 L178.89,267.09 L176.86,266.62 L174.84,266.15 L172.84,265.66 L170.85,265.17 L168.87,264.67 L166.91,264.15 L164.95,263.63 L163.01,263.10 L161.09,262.56 L159.18,262.01 L157.28,261.46 L155.40,260.89 L153.53,260.32 L151.67,259.73 L149.83,259.14 L148.01,258.54 L146.20,257.94 L144.40,257.32 L142.63,256.70 L140.86,256.07 L139.12,255.43 L137.38,254.78 L135.67,254.13 L133.97,253.46 L132.29,252.80 L130.62,252.12 L128.97,251.44 L127.34,250.75 L125.72,250.05 L124.13,249.34 L122.55,248.63 L120.98,247.92 L119.44,247.19 L117.91,246.46 L116.40,245.72 L114.90,244.98 L113.43,244.23 L111.97,243.48 L110.53,242.72 L109.11,241.95 L107.71,241.18 L106.33,240.40 L104.97,239.62 L103.62,238.83 L102.29,238.03 L100.98,237.23 L99.69,236.43 L98.42,235.62 L97.17,234.81 L95.94,233.99 L94.73,233.17 L93.53,232.34 L92.36,231.51 L91.20,230.67 L90.07,229.83 L88.95,228.99 L87.86,228.14 L86.78,227.29 L85.72,226.43 L84.68,225.57 L83.66,224.71 L82.66,223.84 L81.68,222.97 L80.73,222.10 L79.79,221.23 L78.87,220.35 L77.96,219.47 L77.08,218.58 L76.22,217.70 L75.38,216.81 L74.56,215.92 L73.76,215.02 L72.98,214.13 L72.21,213.23 L71.47,212.33 L70.75,211.43 L70.05,210.52 L69.36,209.62 L68.70,208.71 L68.05,207.80 L67.43,206.89 L66.83,205.98 L66.24,205.06 L65.67,204.15 L65.13,203.24 L64.60,202.32 L64.09,201.40 L63.61,200.49 L63.14,199.57 L62.69,198.65 L62.26,197.73 L61.85,196.81 L61.45,195.89 L61.08,194.97 L60.73,194.05 L60.39,193.13 L60.08,192.21 L59.78,191.29 L59.50,190.37 L59.24,189.45 L59.00,188.53 L58.78,187.61 L58.57,186.69 L58.39,185.78 L58.22,184.86 L58.07,183.94 L57.94,183.03 L57.83,182.11 L62.42,225.61 L62.54,226.57 L62.67,227.54 L62.83,228.50 L63.00,229.47 L63.18,230.43 L63.39,231.40 L63.62,232.37 L63.86,233.33 L64.12,234.30 L64.40,235.27 L64.70,236.24 L65.01,237.21 L65.35,238.18 L65.70,239.14 L66.07,240.11 L66.46,241.08 L66.87,242.05 L67.30,243.02 L67.75,243.98 L68.21,244.95 L68.70,245.91 L69.20,246.88 L69.72,247.84 L70.26,248.80 L70.82,249.76 L71.40,250.72 L72.00,251.68 L72.62,252.64 L73.26,253.59 L73.91,254.55 L74.59,255.50 L75.28,256.45 L75.99,257.40 L76.73,258.34 L77.48,259.29 L78.25,260.23 L79.04,261.17 L79.85,262.11 L80.68,263.04 L81.53,263.97 L82.39,264.90 L83.28,265.83 L84.19,266.75 L85.11,267.67 L86.05,268.58 L87.02,269.50 L88.00,270.41 L89.00,271.31 L90.02,272.21 L91.06,273.11 L92.12,274.01 L93.20,274.90 L94.29,275.78 L95.41,276.66 L96.54,277.54 L97.70,278.41 L98.87,279.28 L100.06,280.15 L101.27,281.00 L102.50,281.86 L103.74,282.71 L105.01,283.55 L106.29,284.39 L107.59,285.22 L108.91,286.05 L110.25,286.87 L111.60,287.69 L112.98,288.50 L114.37,289.30 L115.78,290.10 L117.20,290.89 L118.65,291.68 L120.11,292.45 L121.59,293.23 L123.09,293.99 L124.60,294.75 L126.13,295.50 L127.68,296.25 L129.24,296.99 L130.82,297.72 L132.42,298.44 L134.03,299.16 L135.66,299.87 L137.31,300.57 L138.97,301.26 L140.65,301.95 L142.34,302.62 L144.05,303.29 L145.78,303.95 L147.52,304.61 L149.27,305.25 L151.04,305.89 L152.82,306.52 L154.62,307.13 L156.43,307.74 L158.26,308.35 L160.10,308.94 L161.96,309.52 L163.82,310.10 L165.70,310.66 L167.60,311.22 L169.51,311.76 L171.43,312.30 L173.36,312.83 L175.30,313.34 L177.26,313.85 L179.23,314.35 L181.21,314.84 L183.20,315.31 L185.20,315.78 L187.22,316.24 L189.24,316.69 L191.28,317.12 Z" fill="url(#gside6)"/>
<g clip-path="url(#cs6)"><g filter="url(#soft2)" fill="none" stroke="#255e91"><path d="M197.5,271.4 L195.3,271.0 L193.2,270.6 L191.1,270.2 L188.9,269.8 L186.8,269.4 L184.7,269.0 L182.6,268.5 L180.5,268.1 L178.5,267.6 L176.4,267.1 L174.4,266.6 L172.3,266.1 L170.3,265.6 L168.3,265.1 L166.3,264.6 L164.3,264.1 L162.4,263.5 L160.4,263.0 L158.5,262.4 L156.6,261.8 L154.7,261.3 L152.8,260.7 L150.9,260.1 L149.0,259.5 L147.2,258.9 L145.3,258.2 L143.5,257.6 L141.7,257.0 L139.9,256.3 L138.2,255.7 L136.4,255.0 L134.7,254.4 L133.0,253.7 L131.3,253.0 L129.6,252.3 L127.9,251.6 L126.3,250.9 L124.7,250.2 L123.1,249.5 L121.5,248.7 L119.9,248.0 L118.3,247.3 L116.8,246.5 L115.3,245.8 L113.8,245.0 L112.3,244.2 L110.8,243.5 L109.4,242.7 L107.9,241.9 L106.5,241.1 L105.1,240.3 L103.8,239.5 L102.4,238.7 L101.1,237.9 L99.8,237.1 L98.5,236.3 L97.2,235.4 L96.0,234.6 L94.7,233.8 L93.5,232.9 L92.3,232.1 L91.2,231.2 L90.0,230.4 L88.9,229.5 L87.8,228.7 L86.7,227.8 L85.6,226.9 L84.5,226.1 L83.5,225.2 L82.5,224.3 L81.5,223.4 L80.5,222.5 L79.6,221.6 L78.7,220.7 L77.7,219.9 L76.9,219.0 L76.0,218.1 L75.1,217.1 L74.3,216.2 L73.5,215.3 L72.7,214.4 L72.0,213.5 L71.2,212.6 L70.5,211.7 L69.8,210.8 L69.1,209.8 L68.4,208.9 L67.8,208.0 L67.1,207.1 L66.5,206.1 L66.0,205.2 L65.4,204.3 L64.8,203.4 L64.3,202.4 L63.8,201.5 L63.3,200.6 L62.9,199.6 L62.4,198.7 L62.0,197.8 L61.6,196.8 L61.2,195.9 L60.8,195.0 L60.5,194.0 L60.2,193.1 L59.9,192.2 L59.6,191.2 L59.3,190.3 L59.1,189.4 L58.8,188.4 L58.6,187.5 L58.4,186.6 L58.3,185.6 L58.1,184.7 L58.0,183.8 L57.8,182.8 L57.7,181.9 L57.7,181.0 L57.6,180.1 L57.6,179.1" stroke-opacity="0.7" stroke-width="2.2"/><path d="M197.5,273.0 L195.3,272.6 L193.2,272.2 L191.1,271.8 L188.9,271.4 L186.8,271.0 L184.7,270.6 L182.6,270.1 L180.5,269.7 L178.5,269.2 L176.4,268.7 L174.4,268.2 L172.3,267.7 L170.3,267.2 L168.3,266.7 L166.3,266.2 L164.3,265.7 L162.4,265.1 L160.4,264.6 L158.5,264.0 L156.6,263.4 L154.7,262.9 L152.8,262.3 L150.9,261.7 L149.0,261.1 L147.2,260.5 L145.3,259.8 L143.5,259.2 L141.7,258.6 L139.9,257.9 L138.2,257.3 L136.4,256.6 L134.7,256.0 L133.0,255.3 L131.3,254.6 L129.6,253.9 L127.9,253.2 L126.3,252.5 L124.7,251.8 L123.1,251.1 L121.5,250.3 L119.9,249.6 L118.3,248.9 L116.8,248.1 L115.3,247.4 L113.8,246.6 L112.3,245.8 L110.8,245.1 L109.4,244.3 L107.9,243.5 L106.5,242.7 L105.1,241.9 L103.8,241.1 L102.4,240.3 L101.1,239.5 L99.8,238.7 L98.5,237.9 L97.2,237.0 L96.0,236.2 L94.7,235.4 L93.5,234.5 L92.3,233.7 L91.2,232.8 L90.0,232.0 L88.9,231.1 L87.8,230.3 L86.7,229.4 L85.6,228.5 L84.5,227.7 L83.5,226.8 L82.5,225.9 L81.5,225.0 L80.5,224.1 L79.6,223.2 L78.7,222.3 L77.7,221.5 L76.9,220.6 L76.0,219.7 L75.1,218.7 L74.3,217.8 L73.5,216.9 L72.7,216.0 L72.0,215.1 L71.2,214.2 L70.5,213.3 L69.8,212.4 L69.1,211.4 L68.4,210.5 L67.8,209.6 L67.1,208.7 L66.5,207.7 L66.0,206.8 L65.4,205.9 L64.8,205.0 L64.3,204.0 L63.8,203.1 L63.3,202.2 L62.9,201.2 L62.4,200.3 L62.0,199.4 L61.6,198.4 L61.2,197.5 L60.8,196.6 L60.5,195.6 L60.2,194.7 L59.9,193.8 L59.6,192.8 L59.3,191.9 L59.1,191.0 L58.8,190.0 L58.6,189.1 L58.4,188.2 L58.3,187.2 L58.1,186.3 L58.0,185.4 L57.8,184.4 L57.7,183.5 L57.7,182.6 L57.6,181.7 L57.6,180.7" stroke-opacity="0.45" stroke-width="2.0"/><path d="M197.5,274.6 L195.3,274.2 L193.2,273.8 L191.1,273.4 L188.9,273.0 L186.8,272.6 L184.7,272.2 L182.6,271.7 L180.5,271.3 L178.5,270.8 L176.4,270.3 L174.4,269.8 L172.3,269.3 L170.3,268.8 L168.3,268.3 L166.3,267.8 L164.3,267.3 L162.4,266.7 L160.4,266.2 L158.5,265.6 L156.6,265.0 L154.7,264.5 L152.8,263.9 L150.9,263.3 L149.0,262.7 L147.2,262.1 L145.3,261.4 L143.5,260.8 L141.7,260.2 L139.9,259.5 L138.2,258.9 L136.4,258.2 L134.7,257.6 L133.0,256.9 L131.3,256.2 L129.6,255.5 L127.9,254.8 L126.3,254.1 L124.7,253.4 L123.1,252.7 L121.5,251.9 L119.9,251.2 L118.3,250.5 L116.8,249.7 L115.3,249.0 L113.8,248.2 L112.3,247.4 L110.8,246.7 L109.4,245.9 L107.9,245.1 L106.5,244.3 L105.1,243.5 L103.8,242.7 L102.4,241.9 L101.1,241.1 L99.8,240.3 L98.5,239.5 L97.2,238.6 L96.0,237.8 L94.7,237.0 L93.5,236.1 L92.3,235.3 L91.2,234.4 L90.0,233.6 L88.9,232.7 L87.8,231.9 L86.7,231.0 L85.6,230.1 L84.5,229.3 L83.5,228.4 L82.5,227.5 L81.5,226.6 L80.5,225.7 L79.6,224.8 L78.7,223.9 L77.7,223.1 L76.9,222.2 L76.0,221.3 L75.1,220.3 L74.3,219.4 L73.5,218.5 L72.7,217.6 L72.0,216.7 L71.2,215.8 L70.5,214.9 L69.8,214.0 L69.1,213.0 L68.4,212.1 L67.8,211.2 L67.1,210.3 L66.5,209.3 L66.0,208.4 L65.4,207.5 L64.8,206.6 L64.3,205.6 L63.8,204.7 L63.3,203.8 L62.9,202.8 L62.4,201.9 L62.0,201.0 L61.6,200.0 L61.2,199.1 L60.8,198.2 L60.5,197.2 L60.2,196.3 L59.9,195.4 L59.6,194.4 L59.3,193.5 L59.1,192.6 L58.8,191.6 L58.6,190.7 L58.4,189.8 L58.3,188.8 L58.1,187.9 L58.0,187.0 L57.8,186.0 L57.7,185.1 L57.7,184.2 L57.6,183.3 L57.6,182.3" stroke-opacity="0.25" stroke-width="2.0"/><path d="M197.5,276.2 L195.3,275.8 L193.2,275.4 L191.1,275.0 L188.9,274.6 L186.8,274.2 L184.7,273.8 L182.6,273.3 L180.5,272.9 L178.5,272.4 L176.4,271.9 L174.4,271.4 L172.3,270.9 L170.3,270.4 L168.3,269.9 L166.3,269.4 L164.3,268.9 L162.4,268.3 L160.4,267.8 L158.5,267.2 L156.6,266.6 L154.7,266.1 L152.8,265.5 L150.9,264.9 L149.0,264.3 L147.2,263.7 L145.3,263.0 L143.5,262.4 L141.7,261.8 L139.9,261.1 L138.2,260.5 L136.4,259.8 L134.7,259.2 L133.0,258.5 L131.3,257.8 L129.6,257.1 L127.9,256.4 L126.3,255.7 L124.7,255.0 L123.1,254.3 L121.5,253.5 L119.9,252.8 L118.3,252.1 L116.8,251.3 L115.3,250.6 L113.8,249.8 L112.3,249.0 L110.8,248.3 L109.4,247.5 L107.9,246.7 L106.5,245.9 L105.1,245.1 L103.8,244.3 L102.4,243.5 L101.1,242.7 L99.8,241.9 L98.5,241.1 L97.2,240.2 L96.0,239.4 L94.7,238.6 L93.5,237.7 L92.3,236.9 L91.2,236.0 L90.0,235.2 L88.9,234.3 L87.8,233.5 L86.7,232.6 L85.6,231.7 L84.5,230.9 L83.5,230.0 L82.5,229.1 L81.5,228.2 L80.5,227.3 L79.6,226.4 L78.7,225.5 L77.7,224.7 L76.9,223.8 L76.0,222.9 L75.1,221.9 L74.3,221.0 L73.5,220.1 L72.7,219.2 L72.0,218.3 L71.2,217.4 L70.5,216.5 L69.8,215.6 L69.1,214.6 L68.4,213.7 L67.8,212.8 L67.1,211.9 L66.5,210.9 L66.0,210.0 L65.4,209.1 L64.8,208.2 L64.3,207.2 L63.8,206.3 L63.3,205.4 L62.9,204.4 L62.4,203.5 L62.0,202.6 L61.6,201.6 L61.2,200.7 L60.8,199.8 L60.5,198.8 L60.2,197.9 L59.9,197.0 L59.6,196.0 L59.3,195.1 L59.1,194.2 L58.8,193.2 L58.6,192.3 L58.4,191.4 L58.3,190.4 L58.1,189.5 L58.0,188.6 L57.8,187.6 L57.7,186.7 L57.7,185.8 L57.6,184.9 L57.6,183.9" stroke-opacity="0.1" stroke-width="2.0"/></g></g>
<path clip-path="url(#cs6)" d="M199.4,318.1 L197.3,317.7 L195.2,317.3 L193.1,316.9 L191.0,316.5 L188.9,316.0 L186.9,315.6 L184.8,315.1 L182.8,314.6 L180.8,314.1 L178.8,313.6 L176.8,313.1 L174.8,312.6 L172.8,312.1 L170.9,311.5 L168.9,311.0 L167.0,310.4 L165.1,309.9 L163.2,309.3 L161.3,308.7 L159.4,308.1 L157.5,307.5 L155.7,306.9 L153.8,306.3 L152.0,305.6 L150.2,305.0 L148.4,304.3 L146.7,303.7 L144.9,303.0 L143.2,302.3 L141.4,301.7 L139.7,301.0 L138.0,300.3 L136.3,299.6 L134.7,298.8 L133.0,298.1 L131.4,297.4 L129.8,296.6 L128.2,295.9 L126.6,295.1 L125.1,294.4 L123.5,293.6 L122.0,292.8 L120.5,292.1 L119.0,291.3 L117.5,290.5 L116.1,289.7 L114.6,288.9 L113.2,288.0 L111.8,287.2 L110.4,286.4 L109.1,285.6 L107.7,284.7 L106.4,283.9 L105.1,283.0 L103.8,282.2 L102.6,281.3 L101.3,280.4 L100.1,279.6 L98.9,278.7 L97.7,277.8 L96.5,276.9 L95.4,276.0 L94.2,275.1 L93.1,274.2 L92.0,273.3 L91.0,272.4 L89.9,271.5 L88.9,270.6 L87.9,269.7 L86.9,268.7 L85.9,267.8 L84.9,266.9 L84.0,266.0 L83.1,265.0 L82.2,264.1 L81.3,263.1 L80.4,262.2 L79.6,261.2 L78.8,260.3 L78.0,259.3 L77.2,258.4 L76.5,257.4 L75.7,256.5 L75.0,255.5 L74.3,254.5 L73.6,253.6 L73.0,252.6 L72.3,251.6 L71.7,250.6 L71.1,249.7 L70.5,248.7 L70.0,247.7 L69.4,246.7 L68.9,245.8 L68.4,244.8 L67.9,243.8 L67.5,242.8 L67.0,241.8 L66.6,240.9 L66.2,239.9 L65.8,238.9 L65.5,237.9 L65.1,236.9 L64.8,235.9 L64.5,234.9 L64.2,234.0 L63.9,233.0 L63.7,232.0 L63.4,231.0 L63.2,230.0 L63.0,229.1 L62.9,228.1 L62.7,227.1 L62.6,226.1 L62.4,225.1 L62.3,224.2 L62.2,223.2 L62.2,222.2 L62.1,221.2" fill="none" stroke="#173f66" stroke-width="1.6" stroke-opacity="0.55"/>
<path d="M274.00,158.97 L189.20,269.27 L187.14,268.86 L185.09,268.44 L183.05,268.01 L181.02,267.57 L179.01,267.12 L177.00,266.66 L175.01,266.19 L173.03,265.71 L171.06,265.22 L169.10,264.72 L167.16,264.22 L165.22,263.70 L163.31,263.18 L161.40,262.65 L159.51,262.11 L157.63,261.56 L155.77,261.00 L153.92,260.44 L152.08,259.86 L150.26,259.28 L148.45,258.69 L146.66,258.09 L144.88,257.49 L143.12,256.87 L141.37,256.25 L139.64,255.62 L137.93,254.98 L136.22,254.34 L134.54,253.69 L132.87,253.03 L131.22,252.36 L129.58,251.69 L127.96,251.01 L126.36,250.32 L124.77,249.63 L123.20,248.93 L121.65,248.22 L120.12,247.51 L118.60,246.79 L117.10,246.07 L115.61,245.34 L114.15,244.60 L112.70,243.85 L111.27,243.11 L109.85,242.35 L108.46,241.59 L107.08,240.82 L105.72,240.05 L104.38,239.28 L103.06,238.49 L101.76,237.71 L100.47,236.92 L99.20,236.12 L97.96,235.32 L96.73,234.51 L95.51,233.70 L94.32,232.89 L93.15,232.07 L91.99,231.24 L90.86,230.42 L89.74,229.59 L88.64,228.75 L87.56,227.91 L86.50,227.07 L85.46,226.22 L84.44,225.37 L83.44,224.52 L82.46,223.66 L81.49,222.80 L80.55,221.94 L79.62,221.07 L78.72,220.20 L77.83,219.33 L76.96,218.46 L76.11,217.58 L75.28,216.70 L74.47,215.82 L73.68,214.94 L72.91,214.05 L72.16,213.16 L71.43,212.27 L70.72,211.38 L70.02,210.49 L69.35,209.59 L68.69,208.70 L68.05,207.80 L67.44,206.90 L66.84,206.00 L66.26,205.10 L65.70,204.19 L65.16,203.29 L64.64,202.38 L64.13,201.48 L63.65,200.57 L63.18,199.66 L62.74,198.75 L62.31,197.85 L61.90,196.94 L61.51,196.03 L61.14,195.12 L60.79,194.21 L60.45,193.30 L60.14,192.39 L59.84,191.48 L59.56,190.57 L59.30,189.66 L59.06,188.75 L58.83,187.84 L58.63,186.94 L58.44,186.03 L58.27,185.12 L58.12,184.22 L57.98,183.31 L57.87,182.41 L57.77,181.51 L57.69,180.60 L57.62,179.70 L57.58,178.80 L57.55,177.91 L57.54,177.01 L57.54,176.11 L57.56,175.22 L57.60,174.33 L57.66,173.43 L57.73,172.55 L57.83,171.66 L57.93,170.77 L58.06,169.89 L58.20,169.01 L58.35,168.13 L58.53,167.25 L58.72,166.37 L58.92,165.50 L59.14,164.63 L59.38,163.76 L59.64,162.89 L59.91,162.03 L60.19,161.16 L60.49,160.30 L60.81,159.45 L61.14,158.59 L61.49,157.74 L61.85,156.89 L62.23,156.05 L62.62,155.20 L63.03,154.36 L63.45,153.53 L63.89,152.69 L64.34,151.86 L64.80,151.03 L65.28,150.21 L65.78,149.39 L66.29,148.57 L66.81,147.75 L67.35,146.94 L67.90,146.13 L68.47,145.32 L69.04,144.52 L69.64,143.72 L70.24,142.93 L70.86,142.14 L71.50,141.35 L72.14,140.57 L72.80,139.79 L73.47,139.01 L74.16,138.24 L74.85,137.47 L75.56,136.70 L76.29,135.94 L77.02,135.18 L77.77,134.43 L78.53,133.68 L79.30,132.93 L80.09,132.19 L80.88,131.45 L81.69,130.72 L82.51,129.99 L83.34,129.27 L84.19,128.54 L85.04,127.83 L85.91,127.11 L86.78,126.41 L87.67,125.70 L88.57,125.00 L89.48,124.31 L90.40,123.62 L91.33,122.93 L92.28,122.25 L93.23,121.57 L94.19,120.90 L95.17,120.23 L96.15,119.56 L97.14,118.90 L98.15,118.25 L99.16,117.60 L100.19,116.95 L101.22,116.31 L102.26,115.67 L103.32,115.04 L104.38,114.41 L105.45,113.79 L106.53,113.17 L107.62,112.56 L108.72,111.95 L109.83,111.35 L110.95,110.75 L112.07,110.15 L113.21,109.56 L114.35,108.98 L115.50,108.40 L116.66,107.83 L117.83,107.26 L119.01,106.69 L120.19,106.13 L121.38,105.58 L122.58,105.03 L123.79,104.48 L125.01,103.94 L126.23,103.41 L127.46,102.87 L128.70,102.35 L129.95,101.83 L131.20,101.31 L132.46,100.80 L133.73,100.30 L135.01,99.80 L136.29,99.30 L137.58,98.81 L138.87,98.33 L140.18,97.85 L141.49,97.38 L142.80,96.91 L144.12,96.44 L145.45,95.98 L146.79,95.53 L148.13,95.08 L149.47,94.64 L150.83,94.20 L152.18,93.76 L153.55,93.34 L154.92,92.91 L156.29,92.50 L157.68,92.08 L159.06,91.68 L160.46,91.27 L161.85,90.88 L163.26,90.49 L164.66,90.10 L166.08,89.72 L167.50,89.34 L168.92,88.97 L170.35,88.61 L171.78,88.25 L173.22,87.89 L174.66,87.54 L176.11,87.20 L177.56,86.86 L179.02,86.53 L180.48,86.20 L181.94,85.88 L183.41,85.56 L184.88,85.25 L186.36,84.94 L187.84,84.64 L189.32,84.34 L190.81,84.05 L192.30,83.76 L193.80,83.48 L195.30,83.21 L196.80,82.94 L198.31,82.67 L199.82,82.42 L201.33,82.16 L202.84,81.91 L204.36,81.67 L205.89,81.43 L207.41,81.20 L208.94,80.97 L210.47,80.75 L212.00,80.54 L213.54,80.33 L215.08,80.12 L216.62,79.92 L218.16,79.73 L219.71,79.54 L221.26,79.35 L222.81,79.17 L224.36,79.00 L225.92,78.83 L227.48,78.67 L229.03,78.51 L230.60,78.36 L232.16,78.22 L233.72,78.08 L235.29,77.94 L236.86,77.81 L238.43,77.69 L240.00,77.57 L241.57,77.45 L243.15,77.34 L244.72,77.24 L246.30,77.14 L247.88,77.05 L249.46,76.97 L251.04,76.88 L252.62,76.81 L254.20,76.74 L255.78,76.67 L257.37,76.61 L258.95,76.56 L260.54,76.51 L262.12,76.47 L263.71,76.43 L265.29,76.40 L266.88,76.37 L268.47,76.35 L270.06,76.33 L271.64,76.32 L273.23,76.31 Z" fill="#255e91" stroke="#255e91" stroke-width="0.4"/>
<path d="M189.2,269.4 L187.2,269.0 L185.3,268.6 L183.3,268.2 L181.3,267.7 L179.4,267.3 L177.5,266.9 L175.6,266.4 L173.6,266.0 L171.8,265.5 L169.9,265.0 L168.0,264.5 L166.1,264.0 L164.3,263.5 L162.4,263.0 L160.6,262.5 L158.8,262.0 L157.0,261.5 L155.2,260.9 L153.4,260.4 L151.7,259.8 L149.9,259.3 L148.2,258.7 L146.5,258.1 L144.8,257.6 L143.1,257.0 L141.4,256.4 L139.7,255.8 L138.1,255.1 L136.5,254.5 L134.8,253.9 L133.2,253.3 L131.6,252.6 L130.1,252.0 L128.5,251.3 L127.0,250.7 L125.4,250.0 L123.9,249.3 L122.4,248.7 L120.9,248.0 L119.5,247.3 L118.0,246.6 L116.6,245.9 L115.2,245.2 L113.8,244.5 L112.4,243.8 L111.0,243.1 L109.6,242.3 L108.3,241.6 L107.0,240.9 L105.7,240.1 L104.4,239.4 L103.1,238.6 L101.9,237.9 L100.6,237.1 L99.4,236.3 L98.2,235.6 L97.0,234.8 L95.8,234.0 L94.7,233.2 L93.6,232.5 L92.4,231.7 L91.3,230.9 L90.3,230.1 L89.2,229.3 L88.2,228.5 L87.1,227.7 L86.1,226.9 L85.1,226.0 L84.1,225.2 L83.2,224.4 L82.3,223.6 L81.3,222.8 L80.4,221.9 L79.5,221.1 L78.7,220.3 L77.8,219.4 L77.0,218.6 L76.2,217.7 L75.4,216.9 L74.6,216.0 L73.8,215.2 L73.1,214.3 L72.4,213.5 L71.6,212.6 L71.0,211.8 L70.3,210.9 L69.6,210.1 L69.0,209.2 L68.4,208.3 L67.8,207.5 L67.2,206.6 L66.6,205.7 L66.1,204.9 L65.5,204.0 L65.0,203.1 L64.5,202.3 L64.0,201.4 L63.6,200.5 L63.1,199.7 L62.7,198.8 L62.3,197.9 L61.9,197.0 L61.5,196.2 L61.2,195.3 L60.8,194.4 L60.5,193.5 L60.2,192.7 L59.9,191.8 L59.6,190.9 L59.4,190.1 L59.1,189.2 L58.9,188.3 L58.7,187.4 L58.5,186.6 L58.4,185.7 L58.2,184.8 L58.1,183.9 L57.9,183.1 L57.8,182.2" fill="none" stroke="url(#ghl6)" stroke-width="2.6" filter="url(#soft)"/>
<path d="M285.58,158.20 L454.22,113.80 L455.32,114.44 L456.40,115.08 L457.47,115.73 L458.54,116.39 L459.59,117.04 L460.63,117.70 L461.66,118.37 L462.68,119.04 L463.70,119.72 L464.70,120.40 L465.69,121.09 L466.67,121.78 L467.64,122.47 L468.59,123.17 L469.54,123.88 L470.48,124.58 L471.40,125.30 L472.31,126.01 L473.21,126.74 L474.10,127.46 L474.98,128.19 L475.85,128.93 L476.70,129.67 L477.54,130.41 L478.37,131.16 L479.19,131.91 L479.99,132.67 L480.79,133.43 L481.57,134.19 L482.33,134.96 L483.09,135.73 L483.83,136.51 L484.56,137.29 L485.27,138.08 L485.97,138.86 L486.66,139.66 L487.34,140.45 L488.00,141.25 L488.65,142.06 L489.28,142.86 L489.90,143.67 L490.51,144.49 L491.10,145.31 L491.68,146.13 L492.24,146.95 L492.79,147.78 L493.32,148.62 L493.84,149.45 L494.35,150.29 L494.83,151.13 L495.31,151.98 L495.77,152.82 L496.21,153.68 L496.64,154.53 L497.05,155.39 L497.45,156.25 L497.83,157.11 L498.20,157.98 L498.55,158.85 L498.89,159.72 L499.20,160.59 L499.51,161.47 L499.79,162.35 L500.06,163.23 L500.32,164.11 L500.55,165.00 L500.77,165.89 L500.98,166.78 L501.16,167.67 L501.33,168.57 L501.48,169.46 L501.62,170.36 L501.74,171.26 L501.84,172.17 L501.92,173.07 L501.99,173.98 L502.03,174.89 L502.06,175.80 L502.08,176.71 L502.07,177.62 L497.43,219.64 L497.45,218.68 L497.44,217.72 L497.42,216.77 L497.38,215.81 L497.32,214.86 L497.25,213.90 L497.16,212.95 L497.05,212.00 L496.92,211.06 L496.78,210.11 L496.62,209.17 L496.45,208.23 L496.26,207.29 L496.05,206.36 L495.82,205.42 L495.58,204.49 L495.32,203.56 L495.05,202.64 L494.76,201.71 L494.46,200.79 L494.13,199.87 L493.80,198.96 L493.45,198.05 L493.08,197.14 L492.69,196.23 L492.30,195.33 L491.88,194.43 L491.45,193.53 L491.01,192.63 L490.55,191.74 L490.08,190.86 L489.59,189.97 L489.09,189.09 L488.57,188.21 L488.04,187.34 L487.49,186.47 L486.93,185.60 L486.36,184.74 L485.77,183.88 L485.17,183.03 L484.55,182.17 L483.92,181.33 L483.28,180.48 L482.62,179.64 L481.95,178.81 L481.27,177.97 L480.58,177.15 L479.87,176.32 L479.15,175.50 L478.41,174.69 L477.66,173.88 L476.91,173.07 L476.13,172.27 L475.35,171.47 L474.55,170.67 L473.74,169.88 L472.92,169.10 L472.09,168.32 L471.25,167.54 L470.39,166.77 L469.52,166.00 L468.64,165.24 L467.75,164.48 L466.85,163.73 L465.94,162.98 L465.01,162.24 L464.08,161.50 L463.13,160.77 L462.17,160.04 L461.21,159.31 L460.23,158.59 L459.24,157.88 L458.24,157.17 L457.23,156.46 L456.21,155.76 L455.18,155.07 L454.14,154.38 L453.10,153.69 L452.04,153.02 L450.97,152.34 L285.37,199.20 Z" fill="#1f3870"/>
<path d="M285.58,158.20 L502.07,177.62 L497.43,219.64 L285.37,199.20 Z" fill="#1f3870" stroke="#1f3870" stroke-width="0.6"/>
<path d="M285.58,158.20 L454.22,113.80 L455.32,114.44 L456.40,115.08 L457.47,115.73 L458.54,116.39 L459.59,117.04 L460.63,117.70 L461.66,118.37 L462.68,119.04 L463.70,119.72 L464.70,120.40 L465.69,121.09 L466.67,121.78 L467.64,122.47 L468.59,123.17 L469.54,123.88 L470.48,124.58 L471.40,125.30 L472.31,126.01 L473.21,126.74 L474.10,127.46 L474.98,128.19 L475.85,128.93 L476.70,129.67 L477.54,130.41 L478.37,131.16 L479.19,131.91 L479.99,132.67 L480.79,133.43 L481.57,134.19 L482.33,134.96 L483.09,135.73 L483.83,136.51 L484.56,137.29 L485.27,138.08 L485.97,138.86 L486.66,139.66 L487.34,140.45 L488.00,141.25 L488.65,142.06 L489.28,142.86 L489.90,143.67 L490.51,144.49 L491.10,145.31 L491.68,146.13 L492.24,146.95 L492.79,147.78 L493.32,148.62 L493.84,149.45 L494.35,150.29 L494.83,151.13 L495.31,151.98 L495.77,152.82 L496.21,153.68 L496.64,154.53 L497.05,155.39 L497.45,156.25 L497.83,157.11 L498.20,157.98 L498.55,158.85 L498.89,159.72 L499.20,160.59 L499.51,161.47 L499.79,162.35 L500.06,163.23 L500.32,164.11 L500.55,165.00 L500.77,165.89 L500.98,166.78 L501.16,167.67 L501.33,168.57 L501.48,169.46 L501.62,170.36 L501.74,171.26 L501.84,172.17 L501.92,173.07 L501.99,173.98 L502.03,174.89 L502.06,175.80 L502.08,176.71 L502.07,177.62 Z" fill="#4472c4" stroke="#4472c4" stroke-width="0.4"/>
<path d="M280.93,163.98 L499.61,183.81 L499.59,184.73 L499.54,185.65 L499.48,186.57 L499.40,187.49 L499.30,188.41 L499.18,189.33 L499.05,190.26 L498.90,191.18 L498.73,192.11 L498.54,193.03 L498.33,193.96 L498.11,194.89 L497.86,195.81 L497.60,196.74 L497.32,197.67 L497.02,198.60 L496.70,199.53 L496.36,200.46 L496.01,201.39 L495.63,202.31 L495.24,203.24 L494.83,204.17 L494.39,205.10 L493.94,206.02 L493.47,206.95 L492.98,207.88 L492.48,208.80 L491.95,209.72 L491.40,210.65 L490.83,211.57 L490.25,212.49 L489.64,213.41 L489.02,214.33 L488.38,215.24 L487.71,216.16 L487.03,217.07 L486.33,217.98 L485.61,218.89 L484.86,219.80 L484.10,220.71 L483.32,221.61 L482.52,222.51 L481.70,223.41 L480.86,224.31 L480.00,225.20 L479.12,226.09 L478.23,226.98 L477.31,227.87 L476.37,228.75 L475.41,229.63 L474.44,230.51 L473.44,231.38 L472.43,232.25 L471.39,233.12 L470.34,233.98 L469.26,234.84 L468.17,235.69 L467.06,236.54 L465.92,237.39 L464.77,238.23 L463.60,239.07 L462.41,239.91 L461.21,240.74 L459.98,241.56 L458.73,242.38 L457.47,243.20 L456.18,244.01 L454.88,244.82 L453.56,245.62 L452.21,246.41 L450.86,247.20 L449.48,247.99 L448.08,248.77 L446.67,249.54 L445.24,250.31 L443.78,251.07 L442.32,251.83 L440.83,252.58 L439.32,253.32 L437.80,254.06 L436.26,254.79 L434.71,255.51 L433.13,256.23 L431.54,256.94 L429.93,257.65 L428.30,258.35 L426.66,259.04 L425.00,259.72 L423.33,260.39 L421.64,261.06 L419.93,261.72 L418.20,262.38 L416.46,263.02 L414.71,263.66 L412.93,264.29 L411.15,264.92 L409.34,265.53 L407.53,266.14 L405.69,266.73 L403.85,267.32 L401.98,267.90 L400.11,268.48 L398.22,269.04 L396.31,269.60 L394.39,270.14 L392.46,270.68 L390.52,271.21 L388.56,271.73 L386.59,272.24 L384.60,272.74 L382.61,273.23 L380.60,273.72 L378.58,274.19 L376.54,274.65 L374.50,275.11 L372.44,275.55 L370.37,275.99 L368.29,276.41 L366.20,276.82 L364.11,277.23 L361.99,277.62 L359.87,278.01 L357.74,278.38 L355.61,278.75 L353.46,279.10 L351.30,279.44 L349.13,279.78 L346.96,280.10 L344.77,280.41 L342.58,280.71 L340.38,281.00 L338.18,281.28 L335.97,281.55 L333.74,281.81 L331.52,282.06 L329.28,282.30 L327.05,282.52 L324.80,282.74 L322.55,282.94 L320.29,283.13 L318.03,283.32 L315.77,283.49 L313.50,283.65 L311.22,283.79 L308.95,283.93 L306.66,284.06 L304.38,284.17 L302.09,284.27 L299.80,284.37 L297.51,284.45 L295.21,284.52 L292.92,284.57 L290.62,284.62 L288.32,284.66 L286.02,284.68 L283.72,284.69 L281.42,284.70 L279.12,284.69 L276.82,284.66 L274.52,284.63 L272.22,284.59 L269.92,284.53 L267.62,284.47 L265.33,284.39 L263.04,284.30 L260.75,284.20 L258.46,284.09 L256.17,283.96 L253.89,283.83 L251.61,283.68 L249.34,283.53 L247.07,283.36 L244.80,283.18 L242.54,282.99 L240.28,282.79 L238.03,282.58 L235.79,282.35 L233.55,282.12 L231.31,281.87 L229.09,281.62 L226.86,281.35 L224.65,281.07 L222.44,280.79 L220.24,280.49 L218.05,280.18 L215.87,279.86 L213.69,279.53 L211.52,279.19 L209.36,278.84 L207.21,278.47 L205.07,278.10 L202.94,277.72 L200.82,277.33 L198.71,276.93 L196.61,276.51 L198.47,323.33 L200.53,323.76 L202.59,324.18 L204.66,324.59 L206.74,324.99 L208.83,325.38 L210.93,325.75 L213.04,326.12 L215.15,326.48 L217.28,326.82 L219.41,327.16 L221.55,327.48 L223.70,327.79 L225.85,328.09 L228.02,328.38 L230.18,328.66 L232.36,328.93 L234.54,329.18 L236.72,329.43 L238.92,329.66 L241.11,329.88 L243.32,330.09 L245.52,330.29 L247.74,330.48 L249.95,330.65 L252.17,330.82 L254.39,330.97 L256.62,331.11 L258.85,331.24 L261.08,331.35 L263.32,331.46 L265.56,331.55 L267.80,331.63 L270.04,331.70 L272.28,331.76 L274.52,331.81 L276.77,331.84 L279.01,331.86 L281.26,331.87 L283.50,331.87 L285.75,331.86 L287.99,331.83 L290.24,331.80 L292.48,331.75 L294.72,331.69 L296.96,331.61 L299.20,331.53 L301.43,331.43 L303.66,331.32 L305.89,331.21 L308.12,331.07 L310.34,330.93 L312.56,330.78 L314.78,330.61 L316.99,330.43 L319.20,330.24 L321.40,330.04 L323.59,329.83 L325.79,329.60 L327.97,329.37 L330.15,329.12 L332.33,328.86 L334.49,328.59 L336.65,328.31 L338.81,328.02 L340.95,327.71 L343.09,327.40 L345.22,327.07 L347.35,326.74 L349.46,326.39 L351.57,326.03 L353.67,325.66 L355.76,325.28 L357.84,324.89 L359.91,324.49 L361.97,324.07 L364.02,323.65 L366.06,323.22 L368.09,322.78 L370.11,322.32 L372.12,321.86 L374.12,321.38 L376.10,320.90 L378.08,320.40 L380.04,319.90 L381.99,319.39 L383.93,318.86 L385.86,318.33 L387.77,317.78 L389.68,317.23 L391.56,316.67 L393.44,316.10 L395.30,315.52 L397.15,314.93 L398.98,314.33 L400.81,313.72 L402.61,313.11 L404.40,312.48 L406.18,311.85 L407.95,311.20 L409.69,310.55 L411.43,309.89 L413.15,309.23 L414.85,308.55 L416.54,307.87 L418.21,307.18 L419.86,306.48 L421.50,305.77 L423.13,305.06 L424.74,304.33 L426.33,303.60 L427.90,302.87 L429.46,302.12 L431.00,301.37 L432.53,300.61 L434.04,299.85 L435.53,299.08 L437.00,298.30 L438.46,297.51 L439.90,296.72 L441.32,295.93 L442.73,295.12 L444.11,294.31 L445.48,293.50 L446.83,292.67 L448.17,291.85 L449.48,291.01 L450.78,290.17 L452.06,289.33 L453.32,288.48 L454.56,287.63 L455.78,286.77 L456.99,285.90 L458.17,285.03 L459.34,284.16 L460.49,283.28 L461.62,282.40 L462.74,281.51 L463.83,280.62 L464.90,279.72 L465.96,278.82 L467.00,277.92 L468.01,277.01 L469.01,276.10 L469.99,275.18 L470.95,274.26 L471.90,273.34 L472.82,272.42 L473.72,271.49 L474.61,270.56 L475.47,269.62 L476.32,268.68 L477.15,267.74 L477.96,266.80 L478.74,265.86 L479.51,264.91 L480.27,263.96 L481.00,263.00 L481.71,262.05 L482.40,261.09 L483.08,260.14 L483.74,259.18 L484.37,258.21 L484.99,257.25 L485.59,256.29 L486.17,255.32 L486.73,254.35 L487.27,253.38 L487.80,252.41 L488.30,251.44 L488.79,250.47 L489.25,249.50 L489.70,248.52 L490.13,247.55 L490.54,246.58 L490.93,245.60 L491.31,244.63 L491.66,243.65 L492.00,242.68 L492.32,241.70 L492.62,240.72 L492.90,239.75 L493.17,238.77 L493.41,237.80 L493.64,236.82 L493.85,235.85 L494.04,234.88 L494.22,233.90 L494.37,232.93 L494.51,231.96 L494.63,230.99 L494.74,230.02 L494.82,229.05 L494.89,228.08 L494.94,227.12 L494.98,226.15 L280.81,205.28 Z" fill="#2f4a1f"/>
<path d="M499.31,188.31 L499.20,189.23 L499.06,190.15 L498.91,191.08 L498.75,192.00 L498.56,192.93 L498.35,193.86 L498.13,194.79 L497.89,195.71 L497.63,196.64 L497.35,197.57 L497.05,198.50 L496.73,199.43 L496.40,200.36 L496.04,201.29 L495.67,202.22 L495.28,203.15 L494.87,204.07 L494.44,205.00 L493.99,205.93 L493.52,206.86 L493.03,207.78 L492.53,208.71 L492.00,209.63 L491.46,210.56 L490.89,211.48 L490.31,212.40 L489.70,213.32 L489.08,214.24 L488.44,215.16 L487.78,216.07 L487.09,216.99 L486.39,217.90 L485.67,218.81 L484.93,219.72 L484.17,220.62 L483.39,221.53 L482.60,222.43 L481.78,223.33 L480.94,224.23 L480.08,225.12 L479.20,226.01 L478.31,226.90 L477.39,227.79 L476.45,228.67 L475.50,229.55 L474.52,230.43 L473.53,231.31 L472.51,232.18 L471.48,233.04 L470.42,233.91 L469.35,234.77 L468.26,235.62 L467.15,236.47 L466.02,237.32 L464.87,238.17 L463.70,239.01 L462.51,239.84 L461.30,240.67 L460.07,241.50 L458.83,242.32 L457.56,243.14 L456.28,243.95 L454.98,244.76 L453.66,245.56 L452.32,246.35 L450.96,247.15 L449.58,247.93 L448.18,248.71 L446.77,249.49 L445.34,250.26 L443.89,251.02 L442.42,251.77 L440.93,252.53 L439.43,253.27 L437.91,254.01 L436.37,254.74 L434.81,255.47 L433.24,256.18 L431.64,256.90 L430.04,257.60 L428.41,258.30 L426.77,258.99 L425.11,259.68 L423.43,260.35 L421.74,261.02 L420.03,261.68 L418.31,262.34 L416.57,262.99 L414.81,263.62 L413.04,264.26 L411.25,264.88 L409.45,265.49 L407.63,266.10 L405.80,266.70 L403.95,267.29 L402.09,267.87 L400.21,268.45 L398.32,269.01 L396.42,269.57 L394.50,270.11 L392.56,270.65 L390.62,271.18 L388.66,271.70 L386.69,272.21 L384.70,272.72 L382.71,273.21 L380.70,273.69 L378.67,274.17 L376.64,274.63 L374.59,275.09 L372.54,275.53 L370.47,275.97 L368.39,276.39 L366.30,276.81 L364.20,277.21 L362.09,277.61 L359.97,277.99 L357.84,278.37 L355.70,278.73 L353.55,279.09 L351.39,279.43 L349.22,279.76 L347.04,280.09 L344.86,280.40 L342.67,280.70 L340.47,280.99 L338.26,281.27 L336.05,281.54 L333.83,281.80 L331.60,282.05 L329.36,282.29 L327.12,282.51 L324.88,282.73 L322.62,282.93 L320.37,283.13 L318.11,283.31 L315.84,283.48 L313.57,283.64 L311.29,283.79 L309.01,283.93 L306.73,284.05 L304.44,284.17 L302.16,284.27 L299.86,284.36 L297.57,284.45 L295.27,284.52 L292.98,284.57 L290.68,284.62 L288.38,284.66 L286.08,284.68 L283.77,284.69 L281.47,284.70 L279.17,284.69 L276.87,284.66 L274.57,284.63 L272.27,284.59 L269.97,284.53 L267.67,284.47 L265.37,284.39 L263.08,284.30 L260.79,284.20 L258.50,284.09 L256.21,283.97 L253.93,283.83 L251.65,283.69 L249.37,283.53 L247.10,283.36 L244.83,283.18 L242.57,282.99 L240.31,282.79 L238.06,282.58 L235.81,282.36 L233.57,282.12 L231.33,281.88 L229.11,281.62 L226.88,281.35 L224.67,281.08 L222.46,280.79 L220.26,280.49 L218.06,280.18 L215.88,279.86 L213.70,279.53 L211.53,279.19 L209.37,278.84 L207.22,278.48 L205.08,278.10 L202.95,277.72 L200.82,277.33 L198.71,276.93 L196.61,276.51 L198.47,323.33 L200.53,323.76 L202.59,324.18 L204.66,324.59 L206.75,324.99 L208.84,325.38 L210.94,325.75 L213.05,326.12 L215.16,326.48 L217.29,326.82 L219.42,327.16 L221.57,327.48 L223.71,327.79 L225.87,328.09 L228.03,328.38 L230.20,328.66 L232.38,328.93 L234.56,329.19 L236.75,329.43 L238.94,329.66 L241.14,329.88 L243.34,330.09 L245.55,330.29 L247.77,330.48 L249.98,330.65 L252.20,330.82 L254.43,330.97 L256.66,331.11 L258.89,331.24 L261.12,331.35 L263.36,331.46 L265.60,331.55 L267.84,331.63 L270.08,331.70 L272.32,331.76 L274.57,331.81 L276.82,331.84 L279.06,331.86 L281.31,331.87 L283.56,331.87 L285.80,331.86 L288.05,331.83 L290.29,331.79 L292.54,331.75 L294.78,331.68 L297.02,331.61 L299.26,331.53 L301.49,331.43 L303.73,331.32 L305.96,331.20 L308.19,331.07 L310.41,330.93 L312.63,330.77 L314.85,330.60 L317.06,330.43 L319.27,330.24 L321.47,330.03 L323.67,329.82 L325.86,329.60 L328.05,329.36 L330.23,329.11 L332.40,328.85 L334.57,328.58 L336.73,328.30 L338.89,328.01 L341.04,327.70 L343.18,327.39 L345.31,327.06 L347.43,326.72 L349.55,326.37 L351.66,326.01 L353.76,325.64 L355.85,325.26 L357.93,324.87 L360.00,324.47 L362.06,324.06 L364.11,323.63 L366.15,323.20 L368.19,322.75 L370.21,322.30 L372.22,321.83 L374.21,321.36 L376.20,320.87 L378.18,320.38 L380.14,319.87 L382.09,319.36 L384.03,318.83 L385.96,318.30 L387.87,317.76 L389.78,317.20 L391.67,316.64 L393.54,316.07 L395.40,315.49 L397.25,314.90 L399.09,314.30 L400.91,313.69 L402.71,313.07 L404.51,312.44 L406.29,311.81 L408.05,311.17 L409.80,310.51 L411.53,309.85 L413.25,309.19 L414.95,308.51 L416.64,307.83 L418.31,307.13 L419.97,306.43 L421.61,305.73 L423.23,305.01 L424.84,304.29 L426.43,303.56 L428.01,302.82 L429.57,302.07 L431.11,301.32 L432.63,300.56 L434.14,299.80 L435.63,299.02 L437.11,298.24 L438.56,297.46 L440.00,296.67 L441.42,295.87 L442.83,295.06 L444.21,294.25 L445.58,293.44 L446.93,292.61 L448.26,291.78 L449.58,290.95 L450.87,290.11 L452.15,289.27 L453.41,288.42 L454.65,287.56 L455.88,286.70 L457.08,285.83 L458.27,284.96 L459.43,284.09 L460.58,283.21 L461.71,282.33 L462.83,281.44 L463.92,280.54 L464.99,279.65 L466.05,278.75 L467.08,277.84 L468.10,276.93 L469.10,276.02 L470.08,275.10 L471.04,274.18 L471.98,273.26 L472.90,272.34 L473.80,271.41 L474.68,270.47 L475.55,269.54 L476.39,268.60 L477.22,267.66 L478.03,266.71 L478.82,265.77 L479.58,264.82 L480.33,263.87 L481.06,262.92 L481.78,261.96 L482.47,261.00 L483.14,260.04 L483.80,259.08 L484.43,258.12 L485.05,257.16 L485.65,256.19 L486.22,255.22 L486.78,254.26 L487.32,253.29 L487.85,252.32 L488.35,251.34 L488.83,250.37 L489.30,249.40 L489.75,248.43 L490.17,247.45 L490.58,246.48 L490.97,245.50 L491.35,244.52 L491.70,243.55 L492.04,242.57 L492.35,241.60 L492.65,240.62 L492.93,239.64 L493.19,238.67 L493.44,237.69 L493.66,236.72 L493.87,235.74 L494.06,234.77 L494.24,233.80 L494.39,232.82 L494.53,231.85 L494.65,230.88 Z" fill="url(#gside5)"/>
<g clip-path="url(#cs5)"><g filter="url(#soft2)" fill="none" stroke="#70ad47"><path d="M499.6,185.2 L499.5,186.8 L499.4,188.3 L499.2,189.8 L499.0,191.4 L498.7,192.9 L498.4,194.5 L498.0,196.0 L497.5,197.6 L497.1,199.1 L496.5,200.6 L495.9,202.2 L495.3,203.7 L494.6,205.3 L493.8,206.8 L493.0,208.4 L492.2,209.9 L491.3,211.4 L490.3,213.0 L489.3,214.5 L488.2,216.0 L487.1,217.6 L485.9,219.1 L484.7,220.6 L483.4,222.1 L482.1,223.6 L480.7,225.1 L479.3,226.6 L477.8,228.0 L476.2,229.5 L474.6,231.0 L472.9,232.4 L471.2,233.9 L469.4,235.3 L467.6,236.7 L465.7,238.1 L463.8,239.5 L461.8,240.9 L459.8,242.3 L457.7,243.7 L455.5,245.0 L453.4,246.3 L451.1,247.7 L448.8,249.0 L446.5,250.3 L444.1,251.5 L441.6,252.8 L439.1,254.0 L436.6,255.2 L434.0,256.5 L431.3,257.6 L428.6,258.8 L425.9,260.0 L423.1,261.1 L420.3,262.2 L417.4,263.3 L414.5,264.3 L411.5,265.4 L408.5,266.4 L405.5,267.4 L402.4,268.4 L399.3,269.3 L396.1,270.3 L392.9,271.2 L389.7,272.0 L386.4,272.9 L383.1,273.7 L379.7,274.5 L376.4,275.3 L372.9,276.0 L369.5,276.8 L366.0,277.5 L362.5,278.1 L359.0,278.8 L355.4,279.4 L351.9,280.0 L348.3,280.5 L344.6,281.0 L341.0,281.5 L337.3,282.0 L333.6,282.4 L329.9,282.8 L326.2,283.2 L322.4,283.6 L318.7,283.9 L314.9,284.1 L311.1,284.4 L307.3,284.6 L303.5,284.8 L299.7,285.0 L295.9,285.1 L292.1,285.2 L288.2,285.3 L284.4,285.3 L280.6,285.3 L276.8,285.3 L272.9,285.2 L269.1,285.1 L265.3,285.0 L261.5,284.8 L257.7,284.6 L253.9,284.4 L250.1,284.2 L246.3,283.9 L242.5,283.6 L238.8,283.2 L235.0,282.9 L231.3,282.5 L227.6,282.0 L223.9,281.6 L220.3,281.1 L216.6,280.6 L213.0,280.0 L209.4,279.4 L205.8,278.8 L202.3,278.2 L198.8,277.5 L195.3,276.8 L191.8,276.1 L188.4,275.4" stroke-opacity="0.7" stroke-width="2.2"/><path d="M499.6,186.8 L499.5,188.4 L499.4,189.9 L499.2,191.4 L499.0,193.0 L498.7,194.5 L498.4,196.1 L498.0,197.6 L497.5,199.2 L497.1,200.7 L496.5,202.2 L495.9,203.8 L495.3,205.3 L494.6,206.9 L493.8,208.4 L493.0,210.0 L492.2,211.5 L491.3,213.0 L490.3,214.6 L489.3,216.1 L488.2,217.6 L487.1,219.2 L485.9,220.7 L484.7,222.2 L483.4,223.7 L482.1,225.2 L480.7,226.7 L479.3,228.2 L477.8,229.6 L476.2,231.1 L474.6,232.6 L472.9,234.0 L471.2,235.5 L469.4,236.9 L467.6,238.3 L465.7,239.7 L463.8,241.1 L461.8,242.5 L459.8,243.9 L457.7,245.3 L455.5,246.6 L453.4,247.9 L451.1,249.3 L448.8,250.6 L446.5,251.9 L444.1,253.1 L441.6,254.4 L439.1,255.6 L436.6,256.8 L434.0,258.1 L431.3,259.2 L428.6,260.4 L425.9,261.6 L423.1,262.7 L420.3,263.8 L417.4,264.9 L414.5,265.9 L411.5,267.0 L408.5,268.0 L405.5,269.0 L402.4,270.0 L399.3,270.9 L396.1,271.9 L392.9,272.8 L389.7,273.6 L386.4,274.5 L383.1,275.3 L379.7,276.1 L376.4,276.9 L372.9,277.6 L369.5,278.4 L366.0,279.1 L362.5,279.7 L359.0,280.4 L355.4,281.0 L351.9,281.6 L348.3,282.1 L344.6,282.6 L341.0,283.1 L337.3,283.6 L333.6,284.0 L329.9,284.4 L326.2,284.8 L322.4,285.2 L318.7,285.5 L314.9,285.7 L311.1,286.0 L307.3,286.2 L303.5,286.4 L299.7,286.6 L295.9,286.7 L292.1,286.8 L288.2,286.9 L284.4,286.9 L280.6,286.9 L276.8,286.9 L272.9,286.8 L269.1,286.7 L265.3,286.6 L261.5,286.4 L257.7,286.2 L253.9,286.0 L250.1,285.8 L246.3,285.5 L242.5,285.2 L238.8,284.8 L235.0,284.5 L231.3,284.1 L227.6,283.6 L223.9,283.2 L220.3,282.7 L216.6,282.2 L213.0,281.6 L209.4,281.0 L205.8,280.4 L202.3,279.8 L198.8,279.1 L195.3,278.4 L191.8,277.7 L188.4,277.0" stroke-opacity="0.45" stroke-width="2.0"/><path d="M499.6,188.4 L499.5,190.0 L499.4,191.5 L499.2,193.0 L499.0,194.6 L498.7,196.1 L498.4,197.7 L498.0,199.2 L497.5,200.8 L497.1,202.3 L496.5,203.8 L495.9,205.4 L495.3,206.9 L494.6,208.5 L493.8,210.0 L493.0,211.6 L492.2,213.1 L491.3,214.6 L490.3,216.2 L489.3,217.7 L488.2,219.2 L487.1,220.8 L485.9,222.3 L484.7,223.8 L483.4,225.3 L482.1,226.8 L480.7,228.3 L479.3,229.8 L477.8,231.2 L476.2,232.7 L474.6,234.2 L472.9,235.6 L471.2,237.1 L469.4,238.5 L467.6,239.9 L465.7,241.3 L463.8,242.7 L461.8,244.1 L459.8,245.5 L457.7,246.9 L455.5,248.2 L453.4,249.5 L451.1,250.9 L448.8,252.2 L446.5,253.5 L444.1,254.7 L441.6,256.0 L439.1,257.2 L436.6,258.4 L434.0,259.7 L431.3,260.8 L428.6,262.0 L425.9,263.2 L423.1,264.3 L420.3,265.4 L417.4,266.5 L414.5,267.5 L411.5,268.6 L408.5,269.6 L405.5,270.6 L402.4,271.6 L399.3,272.5 L396.1,273.5 L392.9,274.4 L389.7,275.2 L386.4,276.1 L383.1,276.9 L379.7,277.7 L376.4,278.5 L372.9,279.2 L369.5,280.0 L366.0,280.7 L362.5,281.3 L359.0,282.0 L355.4,282.6 L351.9,283.2 L348.3,283.7 L344.6,284.2 L341.0,284.7 L337.3,285.2 L333.6,285.6 L329.9,286.0 L326.2,286.4 L322.4,286.8 L318.7,287.1 L314.9,287.3 L311.1,287.6 L307.3,287.8 L303.5,288.0 L299.7,288.2 L295.9,288.3 L292.1,288.4 L288.2,288.5 L284.4,288.5 L280.6,288.5 L276.8,288.5 L272.9,288.4 L269.1,288.3 L265.3,288.2 L261.5,288.0 L257.7,287.8 L253.9,287.6 L250.1,287.4 L246.3,287.1 L242.5,286.8 L238.8,286.4 L235.0,286.1 L231.3,285.7 L227.6,285.2 L223.9,284.8 L220.3,284.3 L216.6,283.8 L213.0,283.2 L209.4,282.6 L205.8,282.0 L202.3,281.4 L198.8,280.7 L195.3,280.0 L191.8,279.3 L188.4,278.6" stroke-opacity="0.25" stroke-width="2.0"/><path d="M499.6,190.0 L499.5,191.6 L499.4,193.1 L499.2,194.6 L499.0,196.2 L498.7,197.7 L498.4,199.3 L498.0,200.8 L497.5,202.4 L497.1,203.9 L496.5,205.4 L495.9,207.0 L495.3,208.5 L494.6,210.1 L493.8,211.6 L493.0,213.2 L492.2,214.7 L491.3,216.2 L490.3,217.8 L489.3,219.3 L488.2,220.8 L487.1,222.4 L485.9,223.9 L484.7,225.4 L483.4,226.9 L482.1,228.4 L480.7,229.9 L479.3,231.4 L477.8,232.8 L476.2,234.3 L474.6,235.8 L472.9,237.2 L471.2,238.7 L469.4,240.1 L467.6,241.5 L465.7,242.9 L463.8,244.3 L461.8,245.7 L459.8,247.1 L457.7,248.5 L455.5,249.8 L453.4,251.1 L451.1,252.5 L448.8,253.8 L446.5,255.1 L444.1,256.3 L441.6,257.6 L439.1,258.8 L436.6,260.0 L434.0,261.3 L431.3,262.4 L428.6,263.6 L425.9,264.8 L423.1,265.9 L420.3,267.0 L417.4,268.1 L414.5,269.1 L411.5,270.2 L408.5,271.2 L405.5,272.2 L402.4,273.2 L399.3,274.1 L396.1,275.1 L392.9,276.0 L389.7,276.8 L386.4,277.7 L383.1,278.5 L379.7,279.3 L376.4,280.1 L372.9,280.8 L369.5,281.6 L366.0,282.3 L362.5,282.9 L359.0,283.6 L355.4,284.2 L351.9,284.8 L348.3,285.3 L344.6,285.8 L341.0,286.3 L337.3,286.8 L333.6,287.2 L329.9,287.6 L326.2,288.0 L322.4,288.4 L318.7,288.7 L314.9,288.9 L311.1,289.2 L307.3,289.4 L303.5,289.6 L299.7,289.8 L295.9,289.9 L292.1,290.0 L288.2,290.1 L284.4,290.1 L280.6,290.1 L276.8,290.1 L272.9,290.0 L269.1,289.9 L265.3,289.8 L261.5,289.6 L257.7,289.4 L253.9,289.2 L250.1,289.0 L246.3,288.7 L242.5,288.4 L238.8,288.0 L235.0,287.7 L231.3,287.3 L227.6,286.8 L223.9,286.4 L220.3,285.9 L216.6,285.4 L213.0,284.8 L209.4,284.2 L205.8,283.6 L202.3,283.0 L198.8,282.3 L195.3,281.6 L191.8,280.9 L188.4,280.2" stroke-opacity="0.1" stroke-width="2.0"/></g></g>
<path clip-path="url(#cs5)" d="M494.9,226.4 L494.9,228.0 L494.7,229.7 L494.5,231.3 L494.3,232.9 L494.0,234.5 L493.7,236.1 L493.3,237.7 L492.8,239.4 L492.4,241.0 L491.8,242.6 L491.2,244.2 L490.6,245.9 L489.9,247.5 L489.2,249.1 L488.4,250.7 L487.5,252.3 L486.6,254.0 L485.7,255.6 L484.7,257.2 L483.6,258.8 L482.5,260.4 L481.3,262.0 L480.1,263.5 L478.9,265.1 L477.5,266.7 L476.2,268.3 L474.7,269.8 L473.3,271.4 L471.7,272.9 L470.1,274.4 L468.5,276.0 L466.8,277.5 L465.1,279.0 L463.3,280.5 L461.4,281.9 L459.5,283.4 L457.6,284.9 L455.6,286.3 L453.5,287.7 L451.4,289.1 L449.3,290.5 L447.1,291.9 L444.8,293.3 L442.5,294.6 L440.2,296.0 L437.8,297.3 L435.3,298.6 L432.8,299.9 L430.3,301.1 L427.7,302.4 L425.1,303.6 L422.4,304.8 L419.7,306.0 L416.9,307.1 L414.1,308.3 L411.2,309.4 L408.3,310.5 L405.4,311.5 L402.4,312.6 L399.4,313.6 L396.3,314.6 L393.2,315.6 L390.1,316.5 L386.9,317.4 L383.7,318.3 L380.5,319.2 L377.2,320.0 L373.9,320.8 L370.6,321.6 L367.2,322.4 L363.8,323.1 L360.4,323.8 L357.0,324.5 L353.5,325.1 L350.0,325.7 L346.5,326.3 L342.9,326.8 L339.4,327.3 L335.8,327.8 L332.2,328.3 L328.6,328.7 L324.9,329.1 L321.3,329.5 L317.6,329.8 L313.9,330.1 L310.2,330.3 L306.5,330.6 L302.8,330.8 L299.1,330.9 L295.4,331.1 L291.6,331.2 L287.9,331.2 L284.2,331.3 L280.4,331.3 L276.7,331.2 L273.0,331.2 L269.2,331.1 L265.5,330.9 L261.8,330.8 L258.1,330.6 L254.4,330.4 L250.7,330.1 L247.0,329.8 L243.3,329.5 L239.6,329.1 L236.0,328.7 L232.4,328.3 L228.7,327.9 L225.1,327.4 L221.6,326.9 L218.0,326.3 L214.5,325.8 L211.0,325.2 L207.5,324.5 L204.0,323.9 L200.6,323.2 L197.2,322.4 L193.8,321.7 L190.4,320.9" fill="none" stroke="#243d17" stroke-width="1.6" stroke-opacity="0.55"/>
<path d="M280.93,163.98 L499.61,183.81 L499.59,184.73 L499.54,185.65 L499.48,186.57 L499.40,187.49 L499.30,188.41 L499.18,189.33 L499.05,190.26 L498.90,191.18 L498.73,192.11 L498.54,193.03 L498.33,193.96 L498.11,194.89 L497.86,195.81 L497.60,196.74 L497.32,197.67 L497.02,198.60 L496.70,199.53 L496.36,200.46 L496.01,201.39 L495.63,202.31 L495.24,203.24 L494.83,204.17 L494.39,205.10 L493.94,206.02 L493.47,206.95 L492.98,207.88 L492.48,208.80 L491.95,209.72 L491.40,210.65 L490.83,211.57 L490.25,212.49 L489.64,213.41 L489.02,214.33 L488.38,215.24 L487.71,216.16 L487.03,217.07 L486.33,217.98 L485.61,218.89 L484.86,219.80 L484.10,220.71 L483.32,221.61 L482.52,222.51 L481.70,223.41 L480.86,224.31 L480.00,225.20 L479.12,226.09 L478.23,226.98 L477.31,227.87 L476.37,228.75 L475.41,229.63 L474.44,230.51 L473.44,231.38 L472.43,232.25 L471.39,233.12 L470.34,233.98 L469.26,234.84 L468.17,235.69 L467.06,236.54 L465.92,237.39 L464.77,238.23 L463.60,239.07 L462.41,239.91 L461.21,240.74 L459.98,241.56 L458.73,242.38 L457.47,243.20 L456.18,244.01 L454.88,244.82 L453.56,245.62 L452.21,246.41 L450.86,247.20 L449.48,247.99 L448.08,248.77 L446.67,249.54 L445.24,250.31 L443.78,251.07 L442.32,251.83 L440.83,252.58 L439.32,253.32 L437.80,254.06 L436.26,254.79 L434.71,255.51 L433.13,256.23 L431.54,256.94 L429.93,257.65 L428.30,258.35 L426.66,259.04 L425.00,259.72 L423.33,260.39 L421.64,261.06 L419.93,261.72 L418.20,262.38 L416.46,263.02 L414.71,263.66 L412.93,264.29 L411.15,264.92 L409.34,265.53 L407.53,266.14 L405.69,266.73 L403.85,267.32 L401.98,267.90 L400.11,268.48 L398.22,269.04 L396.31,269.60 L394.39,270.14 L392.46,270.68 L390.52,271.21 L388.56,271.73 L386.59,272.24 L384.60,272.74 L382.61,273.23 L380.60,273.72 L378.58,274.19 L376.54,274.65 L374.50,275.11 L372.44,275.55 L370.37,275.99 L368.29,276.41 L366.20,276.82 L364.11,277.23 L361.99,277.62 L359.87,278.01 L357.74,278.38 L355.61,278.75 L353.46,279.10 L351.30,279.44 L349.13,279.78 L346.96,280.10 L344.77,280.41 L342.58,280.71 L340.38,281.00 L338.18,281.28 L335.97,281.55 L333.74,281.81 L331.52,282.06 L329.28,282.30 L327.05,282.52 L324.80,282.74 L322.55,282.94 L320.29,283.13 L318.03,283.32 L315.77,283.49 L313.50,283.65 L311.22,283.79 L308.95,283.93 L306.66,284.06 L304.38,284.17 L302.09,284.27 L299.80,284.37 L297.51,284.45 L295.21,284.52 L292.92,284.57 L290.62,284.62 L288.32,284.66 L286.02,284.68 L283.72,284.69 L281.42,284.70 L279.12,284.69 L276.82,284.66 L274.52,284.63 L272.22,284.59 L269.92,284.53 L267.62,284.47 L265.33,284.39 L263.04,284.30 L260.75,284.20 L258.46,284.09 L256.17,283.96 L253.89,283.83 L251.61,283.68 L249.34,283.53 L247.07,283.36 L244.80,283.18 L242.54,282.99 L240.28,282.79 L238.03,282.58 L235.79,282.35 L233.55,282.12 L231.31,281.87 L229.09,281.62 L226.86,281.35 L224.65,281.07 L222.44,280.79 L220.24,280.49 L218.05,280.18 L215.87,279.86 L213.69,279.53 L211.52,279.19 L209.36,278.84 L207.21,278.47 L205.07,278.10 L202.94,277.72 L200.82,277.33 L198.71,276.93 L196.61,276.51 Z" fill="#70ad47" stroke="#70ad47" stroke-width="0.4"/>
<path d="M499.3,188.4 L499.1,189.9 L498.9,191.4 L498.6,192.8 L498.3,194.3 L497.9,195.8 L497.5,197.3 L497.0,198.8 L496.5,200.2 L495.9,201.7 L495.3,203.2 L494.6,204.7 L493.9,206.2 L493.2,207.7 L492.3,209.1 L491.5,210.6 L490.6,212.1 L489.6,213.6 L488.6,215.0 L487.5,216.5 L486.4,217.9 L485.3,219.4 L484.1,220.8 L482.8,222.3 L481.5,223.7 L480.2,225.1 L478.7,226.6 L477.3,228.0 L475.8,229.4 L474.2,230.8 L472.6,232.2 L471.0,233.6 L469.3,234.9 L467.5,236.3 L465.7,237.7 L463.8,239.0 L461.9,240.3 L460.0,241.7 L458.0,243.0 L455.9,244.3 L453.8,245.6 L451.7,246.8 L449.5,248.1 L447.3,249.3 L445.0,250.5 L442.6,251.8 L440.3,253.0 L437.8,254.1 L435.4,255.3 L432.9,256.5 L430.3,257.6 L427.7,258.7 L425.1,259.8 L422.4,260.9 L419.7,261.9 L416.9,263.0 L414.1,264.0 L411.2,265.0 L408.4,266.0 L405.4,266.9 L402.5,267.9 L399.5,268.8 L396.4,269.7 L393.4,270.5 L390.3,271.4 L387.1,272.2 L383.9,273.0 L380.7,273.8 L377.5,274.5 L374.2,275.3 L371.0,276.0 L367.6,276.6 L364.3,277.3 L360.9,277.9 L357.5,278.5 L354.1,279.1 L350.6,279.6 L347.2,280.2 L343.7,280.7 L340.2,281.1 L336.6,281.6 L333.1,282.0 L329.5,282.4 L326.0,282.7 L322.4,283.1 L318.8,283.4 L315.1,283.6 L311.5,283.9 L307.9,284.1 L304.2,284.3 L300.6,284.4 L296.9,284.6 L293.2,284.7 L289.6,284.7 L285.9,284.8 L282.2,284.8 L278.5,284.8 L274.9,284.7 L271.2,284.7 L267.5,284.6 L263.8,284.4 L260.2,284.3 L256.5,284.1 L252.9,283.9 L249.3,283.6 L245.6,283.3 L242.0,283.0 L238.4,282.7 L234.8,282.4 L231.3,282.0 L227.7,281.6 L224.2,281.1 L220.6,280.6 L217.1,280.1 L213.7,279.6 L210.2,279.1 L206.8,278.5 L203.4,277.9 L200.0,277.3 L196.6,276.6" fill="none" stroke="url(#ghl5)" stroke-width="2.6" filter="url(#soft)"/>
</g>
<g fill="none" stroke="#b3b3b3" stroke-width="0.8">
<polyline points="347.5,76.9 360.2,62.8 365.5,62.8"/>
<polyline points="376.3,82.2 465.3,84.4"/>
<polyline points="425.5,97.7 486.4,102.1"/>
<polyline points="489.8,143.1 505.2,159.1 509.5,159.1"/>
<polyline points="404.7,314.4 454.7,297.8 459,297.8"/>
</g>
<g><text x="262.41" y="69.60" textLength="32.03" lengthAdjust="spacingAndGlyphs" font-size="10.3" fill="#5b9bd5" font-weight="bold" font-style="normal">Други;</text><text x="296.20" y="69.60" textLength="22.05" lengthAdjust="spacingAndGlyphs" font-size="10.3" fill="#5b9bd5" font-weight="bold" font-style="normal">5,2%</text></g><g><text x="367.57" y="63.40" textLength="43.99" lengthAdjust="spacingAndGlyphs" font-size="10.3" fill="#ed7d31" font-weight="bold" font-style="normal">Костадин</text><text x="415.37" y="63.40" textLength="58.52" lengthAdjust="spacingAndGlyphs" font-size="10.3" fill="#ed7d31" font-weight="bold" font-style="normal">Костадинов;</text></g><g><text x="409.67" y="76.60" textLength="21.83" lengthAdjust="spacingAndGlyphs" font-size="10.3" fill="#ed7d31" font-weight="bold" font-style="normal">2,1%</text></g><g><text x="467.43" y="84.90" textLength="32.68" lengthAdjust="spacingAndGlyphs" font-size="10.3" fill="#a5a5a5" font-weight="bold" font-style="normal">Милен</text><text x="503.86" y="84.90" textLength="33.94" lengthAdjust="spacingAndGlyphs" font-size="10.3" fill="#a5a5a5" font-weight="bold" font-style="normal">Михов;</text><text x="542.89" y="84.90" textLength="21.16" lengthAdjust="spacingAndGlyphs" font-size="10.3" fill="#a5a5a5" font-weight="bold" font-style="normal">3,1%</text></g><g><text x="488.46" y="102.50" textLength="28.46" lengthAdjust="spacingAndGlyphs" font-size="10.3" fill="#ffc000" font-weight="bold" font-style="normal">Лозан</text><text x="520.27" y="102.50" textLength="32.53" lengthAdjust="spacingAndGlyphs" font-size="10.3" fill="#ffc000" font-weight="bold" font-style="normal">Панов;</text><text x="556.65" y="102.50" textLength="22.01" lengthAdjust="spacingAndGlyphs" font-size="10.3" fill="#ffc000" font-weight="bold" font-style="normal">6,4%</text></g><g><text x="512.10" y="160.00" textLength="39.44" lengthAdjust="spacingAndGlyphs" font-size="10.3" fill="#4472c4" font-weight="bold" font-style="normal">Мустафа</text><text x="556.55" y="160.00" textLength="50.27" lengthAdjust="spacingAndGlyphs" font-size="10.3" fill="#4472c4" font-weight="bold" font-style="normal">Карадайъ;</text></g><g><text x="544.87" y="173.60" textLength="28.19" lengthAdjust="spacingAndGlyphs" font-size="10.3" fill="#4472c4" font-weight="bold" font-style="normal">11,4%</text></g><g><text x="461.89" y="298.50" textLength="33.75" lengthAdjust="spacingAndGlyphs" font-size="10.3" fill="#70ad47" font-weight="bold" font-style="normal">Анастас</text><text x="501.23" y="298.50" textLength="57.52" lengthAdjust="spacingAndGlyphs" font-size="10.3" fill="#70ad47" font-weight="bold" font-style="normal">Герджиков;</text></g><g><text x="495.91" y="312.80" textLength="28.10" lengthAdjust="spacingAndGlyphs" font-size="10.3" fill="#70ad47" font-weight="bold" font-style="normal">27,3%</text></g><g><text x="30.64" y="309.70" textLength="30.85" lengthAdjust="spacingAndGlyphs" font-size="10.3" fill="#2f6dab" font-weight="bold" font-style="normal">Румен</text><text x="64.35" y="309.70" textLength="32.57" lengthAdjust="spacingAndGlyphs" font-size="10.3" fill="#2f6dab" font-weight="bold" font-style="normal">Радев;</text><text x="98.95" y="309.70" textLength="28.21" lengthAdjust="spacingAndGlyphs" font-size="10.3" fill="#2f6dab" font-weight="bold" font-style="normal">44,6%</text></g>
<rect x="0.5" y="361.5" width="462" height="60" fill="#dcdcdc" stroke="#bfbfbf" stroke-width="1"/>
<g stroke="#111" stroke-width="0.15" word-spacing="-1.2"><text x="7.91" y="376.10" textLength="296.32" lengthAdjust="spacingAndGlyphs" font-size="10.6" fill="#111" font-weight="normal" font-style="italic">04-09.11.2021  г., електорални нагласи - президентски</text><text x="8.73" y="391.30" textLength="374.69" lengthAdjust="spacingAndGlyphs" font-size="10.6" fill="#111" font-weight="normal" font-style="italic">*Проучването е проведено на територията на Република България</text><text x="7.92" y="405.80" textLength="318.47" lengthAdjust="spacingAndGlyphs" font-size="10.6" fill="#111" font-weight="normal" font-style="italic">и не включва нагласите на гласуващите извън страната</text></g>
<path d="M484.20,386.70 C484.20,386.70 486.93,385.98 487.60,385.40 C488.27,384.82 488.03,384.23 488.20,383.20 C488.37,382.17 488.27,380.45 488.60,379.20 C488.93,377.95 489.33,376.60 490.20,375.70 C491.07,374.80 492.13,374.23 493.80,373.80 C495.47,373.37 497.90,373.17 500.20,373.10 C502.50,373.03 507.60,373.40 507.60,373.40 C507.60,373.40 503.87,374.53 502.70,375.50 C501.53,376.47 501.15,377.87 500.60,379.20 C500.05,380.53 499.98,382.25 499.40,383.50 C498.82,384.75 497.10,386.70 497.10,386.70 C497.10,386.70 498.85,388.90 499.50,390.10 C500.15,391.30 500.30,392.77 501.00,393.90 C501.70,395.03 502.33,396.15 503.70,396.90 C505.07,397.65 509.20,398.40 509.20,398.40 C509.20,398.40 506.07,399.32 504.60,399.80 C503.13,400.28 502.07,400.57 500.40,401.30 C498.73,402.03 496.27,403.10 494.60,404.20 C492.93,405.30 491.37,406.68 490.40,407.90 C489.43,409.12 488.80,411.50 488.80,411.50 C488.80,411.50 475.40,411.50 475.40,411.50 C475.40,411.50 476.00,408.27 476.80,406.90 C477.60,405.53 478.62,404.32 480.20,403.30 C481.78,402.28 483.95,401.33 486.30,400.80 C488.65,400.27 492.32,400.38 494.30,400.10 C496.28,399.82 498.20,399.10 498.20,399.10 C498.20,399.10 496.37,398.08 495.20,397.70 C494.03,397.32 492.27,397.23 491.20,396.80 C490.13,396.37 489.32,395.78 488.80,395.10 C488.28,394.42 488.27,393.60 488.10,392.70 C487.93,391.80 488.02,390.47 487.80,389.70 C487.58,388.93 487.40,388.60 486.80,388.10 C486.20,387.60 484.20,386.70 484.20,386.70Z" fill="#a8c52b"/>
<path d="M508.70,386.70 C508.70,386.70 511.43,385.98 512.10,385.40 C512.77,384.82 512.53,384.23 512.70,383.20 C512.87,382.17 512.77,380.45 513.10,379.20 C513.43,377.95 513.83,376.60 514.70,375.70 C515.57,374.80 516.63,374.23 518.30,373.80 C519.97,373.37 522.40,373.17 524.70,373.10 C527.00,373.03 532.10,373.40 532.10,373.40 C532.10,373.40 528.37,374.53 527.20,375.50 C526.03,376.47 525.65,377.87 525.10,379.20 C524.55,380.53 524.48,382.25 523.90,383.50 C523.32,384.75 521.60,386.70 521.60,386.70 C521.60,386.70 523.35,388.90 524.00,390.10 C524.65,391.30 524.80,392.77 525.50,393.90 C526.20,395.03 526.83,396.15 528.20,396.90 C529.57,397.65 533.70,398.40 533.70,398.40 C533.70,398.40 530.57,399.32 529.10,399.80 C527.63,400.28 526.57,400.57 524.90,401.30 C523.23,402.03 520.77,403.10 519.10,404.20 C517.43,405.30 515.87,406.68 514.90,407.90 C513.93,409.12 513.30,411.50 513.30,411.50 C513.30,411.50 499.90,411.50 499.90,411.50 C499.90,411.50 500.50,408.27 501.30,406.90 C502.10,405.53 503.12,404.32 504.70,403.30 C506.28,402.28 508.45,401.33 510.80,400.80 C513.15,400.27 516.82,400.38 518.80,400.10 C520.78,399.82 522.70,399.10 522.70,399.10 C522.70,399.10 520.87,398.08 519.70,397.70 C518.53,397.32 516.77,397.23 515.70,396.80 C514.63,396.37 513.82,395.78 513.30,395.10 C512.78,394.42 512.77,393.60 512.60,392.70 C512.43,391.80 512.52,390.47 512.30,389.70 C512.08,388.93 511.90,388.60 511.30,388.10 C510.70,387.60 508.70,386.70 508.70,386.70Z" fill="#4b4d51"/>
<text x="526.2" y="381.9" textLength="107" lengthAdjust="spacingAndGlyphs" font-size="6.9" font-weight="bold" fill="#a6c232">БАРОМЕТЪР</text>
<text x="526.2" y="392.1" textLength="94.5" lengthAdjust="spacingAndGlyphs" font-size="6.9" font-weight="bold" fill="#4b4d51">БЪЛГАРИЯ</text>
</svg>
</body></html>
